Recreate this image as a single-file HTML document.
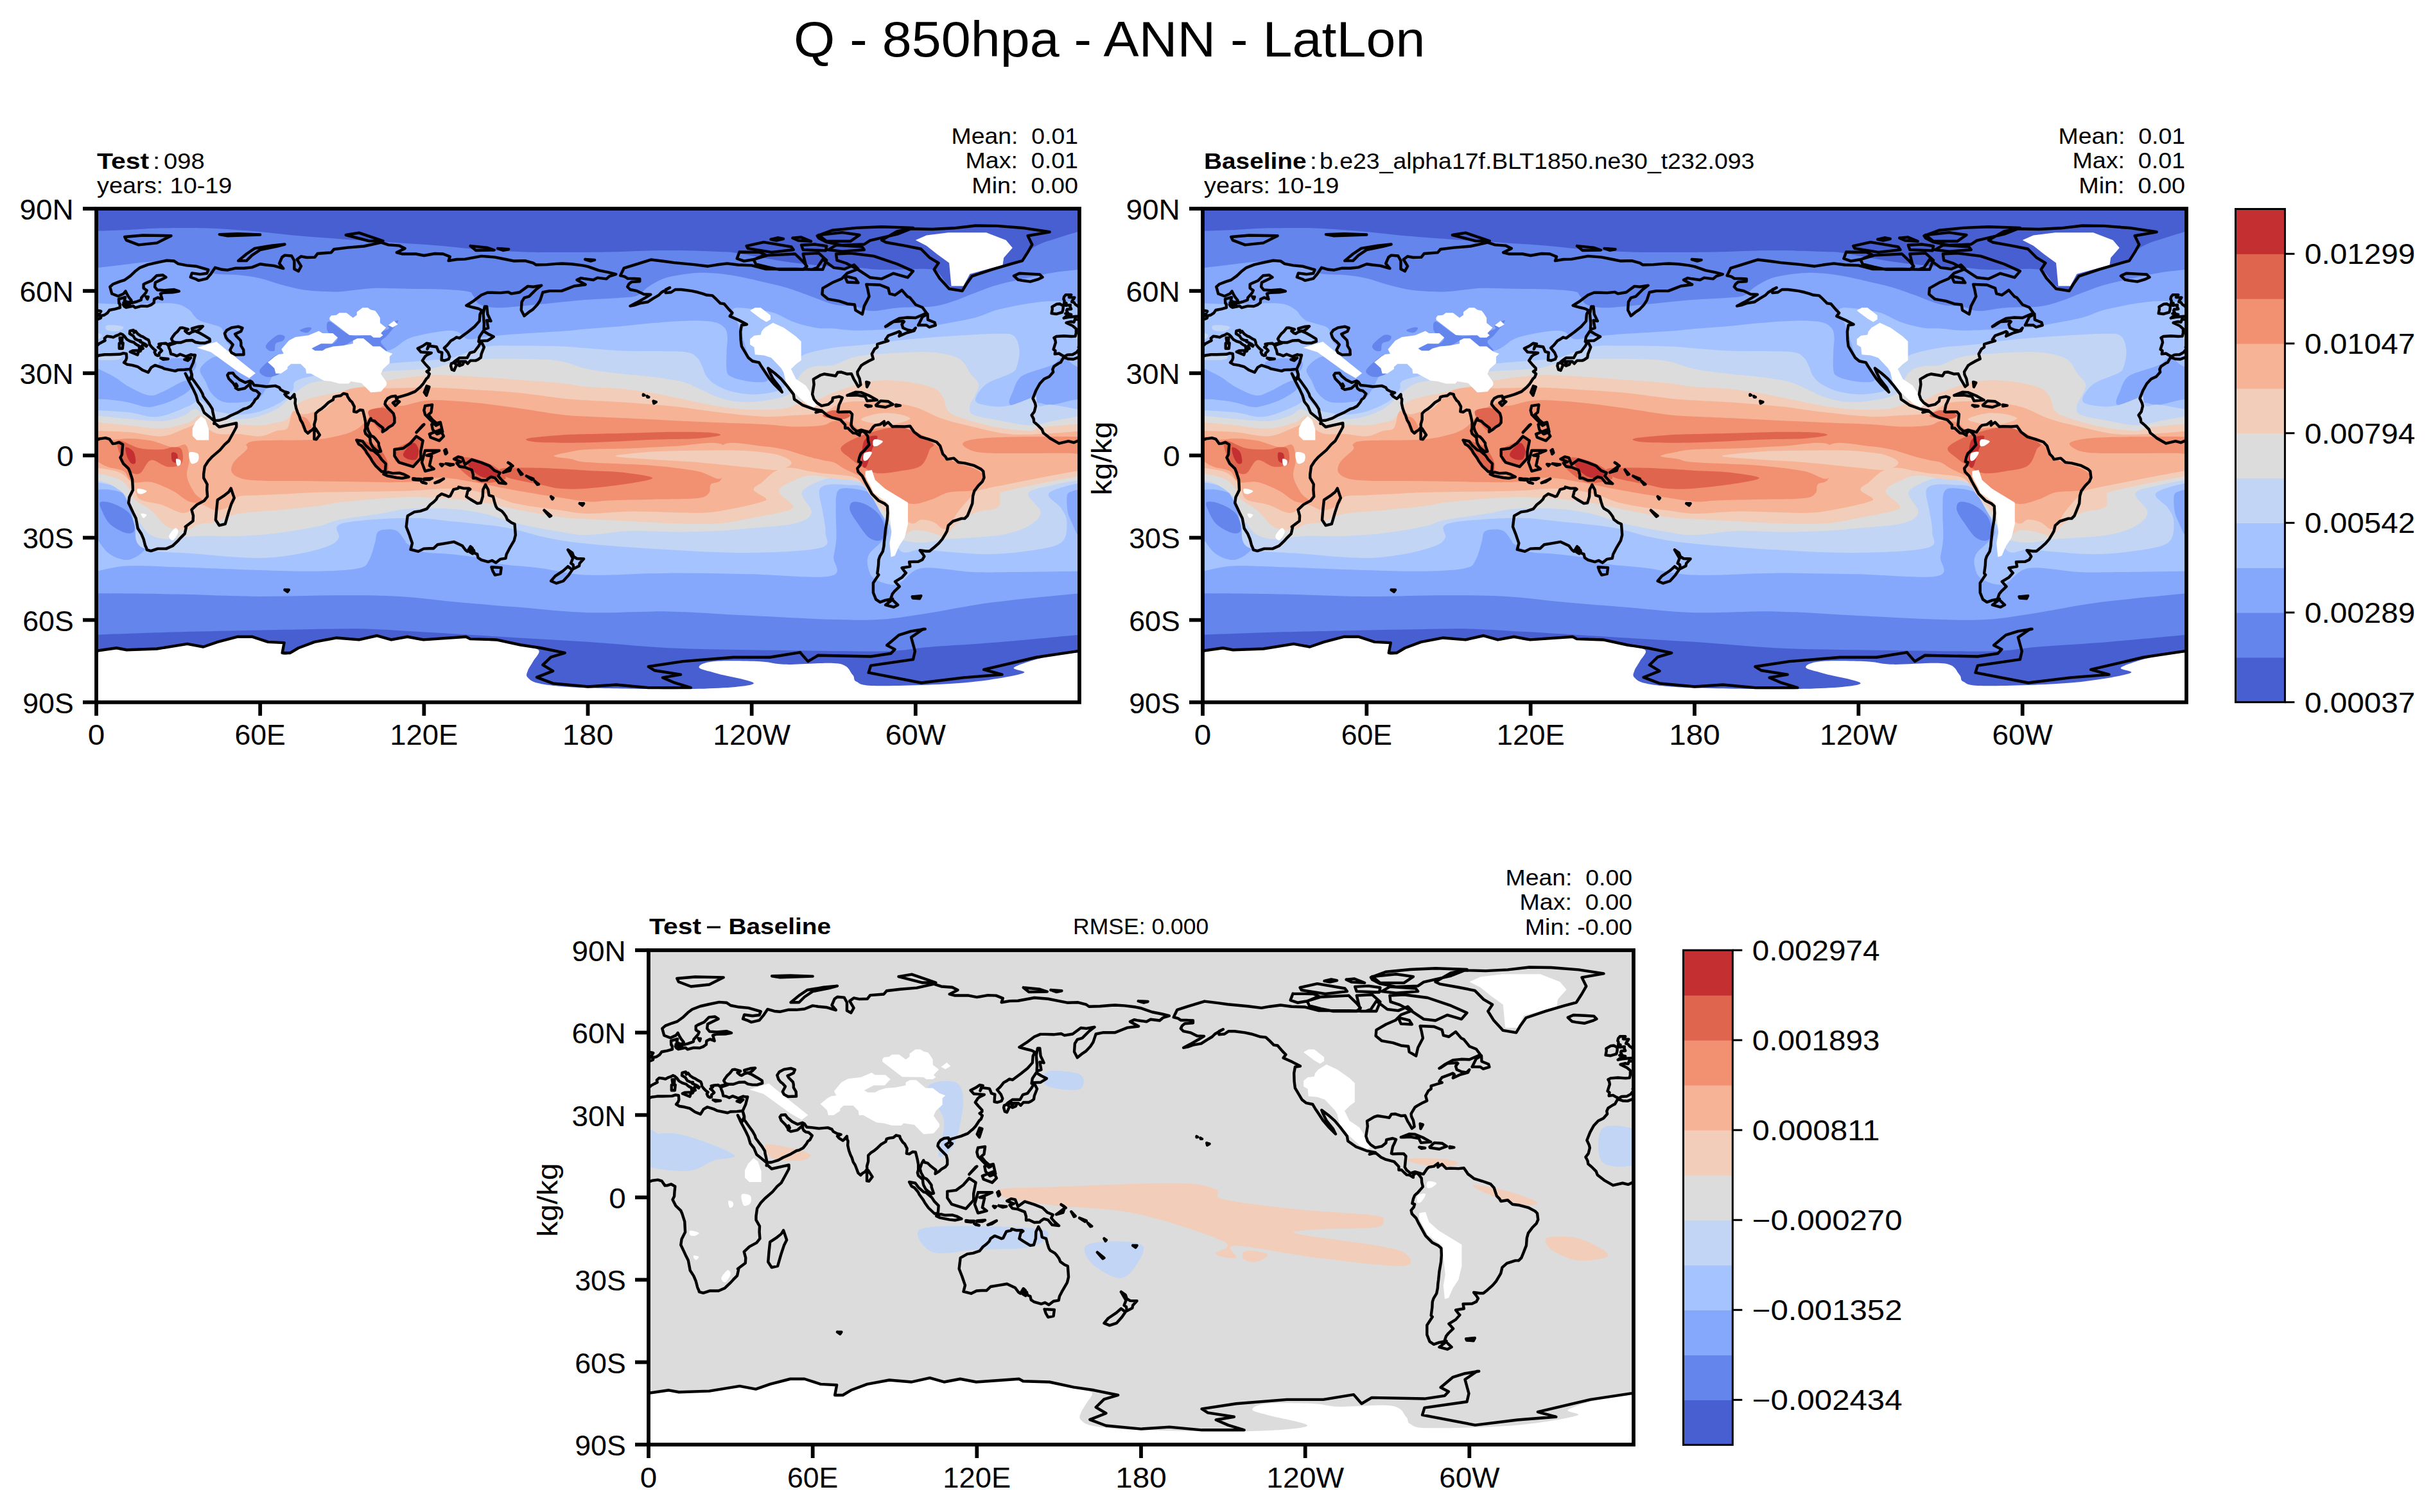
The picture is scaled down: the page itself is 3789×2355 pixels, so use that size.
<!DOCTYPE html><html><head><meta charset="utf-8"><style>html,body{margin:0;padding:0;background:#fff;}svg{display:block;}</style></head><body><svg xmlns="http://www.w3.org/2000/svg" width="3789" height="2355" viewBox="0 0 3789 2355" font-family='"Liberation Sans", sans-serif'>
<rect width="100%" height="100%" fill="#fff"/>
<defs>
<clipPath id="mclip"><rect x="0" y="0" width="360" height="180"/></clipPath>
<g id="field1"><rect x="-5" y="-5" width="370" height="190" fill="#485fd1"/><path d="M-3.00,8.10 C-2.50,8.10 -2.50,8.17 0.00,8.10 C2.50,8.03 8.00,7.87 12.00,7.70 C16.00,7.53 19.33,7.20 24.00,7.10 C28.67,7.00 34.67,6.93 40.00,7.10 C45.33,7.27 50.67,7.67 56.00,8.10 C61.33,8.53 66.33,9.20 72.00,9.70 C77.67,10.20 85.00,10.73 90.00,11.10 C95.00,11.47 98.00,11.63 102.00,11.90 C106.00,12.17 110.00,12.43 114.00,12.70 C118.00,12.97 122.00,13.17 126.00,13.50 C130.00,13.83 134.00,14.37 138.00,14.70 C142.00,15.03 146.00,15.30 150.00,15.50 C154.00,15.70 157.00,15.83 162.00,15.90 C167.00,15.97 175.00,15.93 180.00,15.90 C185.00,15.87 188.00,15.80 192.00,15.70 C196.00,15.60 200.00,15.37 204.00,15.30 C208.00,15.23 212.00,15.23 216.00,15.30 C220.00,15.37 225.00,15.57 228.00,15.70 C231.00,15.83 231.33,15.73 234.00,16.10 C236.67,16.47 240.33,17.28 244.00,17.90 C247.67,18.52 251.67,19.25 256.00,19.80 C260.33,20.35 266.33,20.93 270.00,21.20 C273.67,21.47 275.33,21.23 278.00,21.40 C280.67,21.57 283.33,22.07 286.00,22.20 C288.67,22.33 291.00,22.23 294.00,22.20 C297.00,22.17 301.67,21.87 304.00,22.00 C306.33,22.13 306.67,22.03 308.00,23.00 C309.33,23.97 310.55,26.73 312.00,27.80 C313.45,28.87 315.37,29.80 316.70,29.40 C318.03,29.00 318.45,26.47 320.00,25.40 C321.55,24.33 323.67,23.80 326.00,23.00 C328.33,22.20 331.88,21.27 334.00,20.60 C336.12,19.93 337.37,19.92 338.70,19.00 C340.03,18.08 340.78,16.15 342.00,15.10 C343.22,14.05 344.33,13.43 346.00,12.70 C347.67,11.97 349.67,11.43 352.00,10.70 C354.33,9.97 358.17,8.70 360.00,8.30 C361.83,7.90 362.50,8.30 363.00,8.30 L363.00,155.40 C362.50,155.40 365.83,154.92 360.00,155.40 C354.17,155.88 337.03,157.57 328.00,158.30 C318.97,159.03 311.97,159.30 305.80,159.80 C299.63,160.30 297.17,161.05 291.00,161.30 C284.83,161.55 277.43,161.37 268.80,161.30 C260.17,161.23 249.07,161.08 239.20,160.90 C229.33,160.72 219.47,160.68 209.60,160.20 C199.73,159.72 190.27,158.68 180.00,158.00 C169.73,157.32 158.27,156.72 148.00,156.10 C137.73,155.48 127.03,154.78 118.40,154.30 C109.77,153.82 103.60,153.33 96.20,153.20 C88.80,153.07 81.40,153.38 74.00,153.50 C66.60,153.62 60.43,153.72 51.80,153.90 C43.17,154.08 30.83,154.35 22.20,154.60 C13.57,154.85 4.20,155.27 0.00,155.40 C-4.20,155.53 -2.50,155.40 -3.00,155.40Z" fill="#6485ec"/><path d="M-3.00,21.60 C-2.50,21.60 -2.50,21.83 0.00,21.60 C2.50,21.37 8.67,20.57 12.00,20.20 C15.33,19.83 17.33,19.50 20.00,19.40 C22.67,19.30 25.33,19.27 28.00,19.60 C30.67,19.93 34.00,20.90 36.00,21.40 C38.00,21.90 38.67,22.20 40.00,22.60 C41.33,23.00 42.00,23.53 44.00,23.80 C46.00,24.07 49.33,23.93 52.00,24.20 C54.67,24.47 57.33,24.80 60.00,25.40 C62.67,26.00 65.33,27.10 68.00,27.80 C70.67,28.50 73.33,29.20 76.00,29.60 C78.67,30.00 81.67,30.10 84.00,30.20 C86.33,30.30 87.00,30.40 90.00,30.20 C93.00,30.00 98.00,29.17 102.00,29.00 C106.00,28.83 110.00,29.13 114.00,29.20 C118.00,29.27 122.33,29.23 126.00,29.40 C129.67,29.57 134.00,29.82 136.00,30.20 C138.00,30.58 137.28,30.92 138.00,31.70 C138.72,32.48 138.97,34.17 140.30,34.90 C141.63,35.63 143.72,35.97 146.00,36.10 C148.28,36.23 151.33,35.90 154.00,35.70 C156.67,35.50 158.67,35.23 162.00,34.90 C165.33,34.57 171.00,33.98 174.00,33.70 C177.00,33.42 177.00,33.40 180.00,33.20 C183.00,33.00 189.00,32.75 192.00,32.50 C195.00,32.25 196.33,32.35 198.00,31.70 C199.67,31.05 200.33,29.65 202.00,28.60 C203.67,27.55 205.67,26.20 208.00,25.40 C210.33,24.60 213.33,24.13 216.00,23.80 C218.67,23.47 221.33,23.33 224.00,23.40 C226.67,23.47 229.00,23.73 232.00,24.20 C235.00,24.67 238.67,25.47 242.00,26.20 C245.33,26.93 249.00,27.75 252.00,28.60 C255.00,29.45 257.00,30.25 260.00,31.30 C263.00,32.35 267.00,34.17 270.00,34.90 C273.00,35.63 275.67,35.30 278.00,35.70 C280.33,36.10 281.33,37.23 284.00,37.30 C286.67,37.37 290.33,36.37 294.00,36.10 C297.67,35.83 302.67,36.10 306.00,35.70 C309.33,35.30 311.33,34.55 314.00,33.70 C316.67,32.85 319.33,31.58 322.00,30.60 C324.67,29.62 326.67,28.73 330.00,27.80 C333.33,26.87 338.67,25.73 342.00,25.00 C345.33,24.27 347.00,23.87 350.00,23.40 C353.00,22.93 357.83,22.40 360.00,22.20 C362.17,22.00 362.50,22.20 363.00,22.20 L363.00,140.30 C362.50,140.30 365.83,139.75 360.00,140.30 C354.17,140.85 337.03,142.43 328.00,143.60 C318.97,144.77 312.58,146.27 305.80,147.30 C299.02,148.33 293.47,149.38 287.30,149.80 C281.13,150.22 276.82,150.03 268.80,149.80 C260.78,149.57 249.07,148.88 239.20,148.40 C229.33,147.92 219.47,147.08 209.60,146.90 C199.73,146.72 189.03,147.55 180.00,147.30 C170.97,147.05 163.20,146.02 155.40,145.40 C147.60,144.78 140.60,144.27 133.20,143.60 C125.80,142.93 118.40,141.83 111.00,141.40 C103.60,140.97 97.43,141.00 88.80,141.00 C80.17,141.00 69.07,141.47 59.20,141.40 C49.33,141.33 39.47,140.78 29.60,140.60 C19.73,140.42 5.43,140.35 0.00,140.30 C-5.43,140.25 -2.50,140.30 -3.00,140.30Z" fill="#85a8fc"/><path d="M-3.00,34.50 C-2.50,34.50 -2.50,34.43 0.00,34.50 C2.50,34.57 8.00,34.90 12.00,34.90 C16.00,34.90 21.00,34.50 24.00,34.50 C27.00,34.50 28.33,34.50 30.00,34.90 C31.67,35.30 33.00,36.17 34.00,36.90 C35.00,37.63 35.33,38.63 36.00,39.30 C36.67,39.97 37.00,40.43 38.00,40.90 C39.00,41.37 40.67,41.63 42.00,42.10 C43.33,42.57 45.17,42.78 46.00,43.70 C46.83,44.62 46.33,46.28 47.00,47.60 C47.67,48.92 48.83,49.53 50.00,51.60 C51.17,53.67 52.00,58.43 54.00,60.00 C56.00,61.57 59.67,61.17 62.00,61.00 C64.33,60.83 66.33,60.00 68.00,59.00 C69.67,58.00 69.17,56.17 72.00,55.00 C74.83,53.83 80.33,52.33 85.00,52.00 C89.67,51.67 96.10,53.13 100.00,53.00 C103.90,52.87 105.93,52.17 108.40,51.20 C110.87,50.23 111.87,48.27 114.80,47.20 C117.73,46.13 123.13,45.20 126.00,44.80 C128.87,44.40 130.33,44.33 132.00,44.80 C133.67,45.27 134.33,47.27 136.00,47.60 C137.67,47.93 139.67,47.07 142.00,46.80 C144.33,46.53 146.67,46.27 150.00,46.00 C153.33,45.73 158.00,45.47 162.00,45.20 C166.00,44.93 171.00,44.63 174.00,44.40 C177.00,44.17 177.00,44.05 180.00,43.80 C183.00,43.55 188.00,43.25 192.00,42.90 C196.00,42.55 200.00,42.03 204.00,41.70 C208.00,41.37 212.33,40.97 216.00,40.90 C219.67,40.83 223.67,40.88 226.00,41.30 C228.33,41.72 229.15,42.50 230.00,43.40 C230.85,44.30 230.97,45.23 231.10,46.70 C231.23,48.17 230.85,50.22 230.80,52.20 C230.75,54.18 230.60,57.13 230.80,58.60 C231.00,60.07 231.02,60.33 232.00,61.00 C232.98,61.67 234.98,62.22 236.70,62.60 C238.42,62.98 240.77,63.32 242.30,63.30 C243.83,63.28 245.50,63.28 245.90,62.50 C246.30,61.72 245.30,59.72 244.70,58.60 C244.10,57.48 243.23,56.60 242.30,55.80 C241.37,55.00 239.98,55.10 239.10,53.80 C238.22,52.50 237.68,49.97 237.00,48.00 C236.32,46.03 235.65,43.90 235.00,42.00 C234.35,40.10 232.27,37.52 233.10,36.60 C233.93,35.68 237.53,36.28 240.00,36.50 C242.47,36.72 245.25,37.07 247.90,37.90 C250.55,38.73 253.23,40.57 255.90,41.50 C258.57,42.43 261.55,43.13 263.90,43.50 C266.25,43.87 267.65,43.55 270.00,43.70 C272.35,43.85 274.67,44.35 278.00,44.40 C281.33,44.45 286.00,44.18 290.00,44.00 C294.00,43.82 298.67,43.62 302.00,43.30 C305.33,42.98 306.67,42.70 310.00,42.10 C313.33,41.50 318.67,40.57 322.00,39.70 C325.33,38.83 326.67,37.77 330.00,36.90 C333.33,36.03 338.67,35.03 342.00,34.50 C345.33,33.97 347.00,33.78 350.00,33.70 C353.00,33.62 357.83,33.95 360.00,34.00 C362.17,34.05 362.50,34.00 363.00,34.00 L363.00,132.20 C362.50,132.20 364.60,132.15 360.00,132.20 C355.40,132.25 341.97,132.45 335.40,132.50 C328.83,132.55 326.15,132.73 320.60,132.50 C315.05,132.27 306.67,130.35 302.10,131.10 C297.53,131.85 296.05,136.35 293.20,137.00 C290.35,137.65 286.78,136.12 285.00,135.00 C283.22,133.88 282.83,131.80 282.50,130.30 C282.17,128.80 282.25,127.38 283.00,126.00 C283.75,124.62 285.83,123.33 287.00,122.00 C288.17,120.67 289.83,119.67 290.00,118.00 C290.17,116.33 288.67,113.83 288.00,112.00 C287.33,110.17 286.83,108.42 286.00,107.00 C285.17,105.58 284.67,104.33 283.00,103.50 C281.33,102.67 277.92,102.08 276.00,102.00 C274.08,101.92 272.37,101.67 271.50,103.00 C270.63,104.33 270.88,107.17 270.80,110.00 C270.72,112.83 271.13,117.17 271.00,120.00 C270.87,122.83 270.37,124.67 270.00,127.00 C269.63,129.33 273.93,132.95 268.80,134.00 C263.67,135.05 249.07,133.48 239.20,133.30 C229.33,133.12 219.47,132.85 209.60,132.90 C199.73,132.95 187.80,133.90 180.00,133.60 C172.20,133.30 168.13,131.77 162.80,131.10 C157.47,130.43 151.70,130.22 148.00,129.60 C144.30,128.98 143.60,128.00 140.60,127.40 C137.60,126.80 133.47,126.37 130.00,126.00 C126.53,125.63 122.48,125.83 119.80,125.20 C117.12,124.57 115.03,122.90 113.90,122.20 C112.77,121.50 113.65,121.78 113.00,121.00 C112.35,120.22 111.17,118.17 110.00,117.50 C108.83,116.83 107.17,116.92 106.00,117.00 C104.83,117.08 103.67,117.17 103.00,118.00 C102.33,118.83 102.52,120.32 102.00,122.00 C101.48,123.68 100.87,126.58 99.90,128.10 C98.93,129.62 99.28,130.42 96.20,131.10 C93.12,131.78 87.57,132.08 81.40,132.20 C75.23,132.32 67.83,132.05 59.20,131.80 C50.57,131.55 37.62,130.95 29.60,130.70 C21.58,130.45 16.03,130.05 11.10,130.30 C6.17,130.55 2.35,131.88 0.00,132.20 C-2.35,132.52 -2.50,132.20 -3.00,132.20Z" fill="#a5c3fe"/><path d="M334.70,71.50 C333.37,70.72 335.37,67.58 335.90,66.00 C336.43,64.42 337.03,63.00 337.90,62.00 C338.77,61.00 339.08,60.83 341.10,60.00 C343.12,59.17 347.85,58.00 350.00,57.00 C352.15,56.00 352.67,54.00 354.00,54.00 C355.33,54.00 356.00,55.83 358.00,57.00 C360.00,58.17 363.67,59.67 366.00,61.00 C368.33,62.33 369.80,63.82 372.00,65.00 C374.20,66.18 377.20,67.78 379.20,68.10 C381.20,68.42 381.87,67.77 384.00,66.90 C386.13,66.03 390.33,63.38 392.00,62.90 C393.67,62.42 393.67,63.43 394.00,64.00 C394.33,64.57 395.00,65.32 394.00,66.30 C393.00,67.28 390.00,68.97 388.00,69.90 C386.00,70.83 383.67,71.50 382.00,71.90 C380.33,72.30 380.00,72.57 378.00,72.30 C376.00,72.03 373.00,70.77 370.00,70.30 C367.00,69.83 363.33,69.30 360.00,69.50 C356.67,69.70 352.68,71.30 350.00,71.50 C347.32,71.70 346.45,70.70 343.90,70.70 C341.35,70.70 336.03,72.28 334.70,71.50Z" fill="#85a8fc"/><path d="M-25.30,71.50 C-26.63,70.72 -24.63,67.58 -24.10,66.00 C-23.57,64.42 -22.97,63.00 -22.10,62.00 C-21.23,61.00 -20.92,60.83 -18.90,60.00 C-16.88,59.17 -12.15,58.00 -10.00,57.00 C-7.85,56.00 -7.33,54.00 -6.00,54.00 C-4.67,54.00 -4.00,55.83 -2.00,57.00 C0.00,58.17 3.67,59.67 6.00,61.00 C8.33,62.33 9.80,63.82 12.00,65.00 C14.20,66.18 17.20,67.78 19.20,68.10 C21.20,68.42 21.87,67.77 24.00,66.90 C26.13,66.03 30.33,63.38 32.00,62.90 C33.67,62.42 33.67,63.43 34.00,64.00 C34.33,64.57 35.00,65.32 34.00,66.30 C33.00,67.28 30.00,68.97 28.00,69.90 C26.00,70.83 23.67,71.50 22.00,71.90 C20.33,72.30 20.00,72.57 18.00,72.30 C16.00,72.03 13.00,70.77 10.00,70.30 C7.00,69.83 3.33,69.30 0.00,69.50 C-3.33,69.70 -7.32,71.30 -10.00,71.50 C-12.68,71.70 -13.55,70.70 -16.10,70.70 C-18.65,70.70 -23.97,72.28 -25.30,71.50Z" fill="#85a8fc"/><path d="M42.00,54.60 C43.33,53.80 44.67,53.90 46.00,53.80 C47.33,53.70 48.67,53.47 50.00,54.00 C51.33,54.53 52.33,56.33 54.00,57.00 C55.67,57.67 58.00,57.83 60.00,58.00 C62.00,58.17 65.33,57.33 66.00,58.00 C66.67,58.67 64.67,60.70 64.00,62.00 C63.33,63.30 62.83,64.55 62.00,65.80 C61.17,67.05 60.67,68.68 59.00,69.50 C57.33,70.32 54.17,70.57 52.00,70.70 C49.83,70.83 47.67,70.90 46.00,70.30 C44.33,69.70 43.00,68.32 42.00,67.10 C41.00,65.88 40.67,64.42 40.00,63.00 C39.33,61.58 37.67,60.00 38.00,58.60 C38.33,57.20 40.67,55.40 42.00,54.60Z" fill="#85a8fc"/><path d="M355.50,104.50 C355.80,103.27 356.75,103.33 357.50,103.00 C358.25,102.67 358.75,102.58 360.00,102.50 C361.25,102.42 363.33,102.25 365.00,102.50 C366.67,102.75 368.83,103.08 370.00,104.00 C371.17,104.92 371.33,106.17 372.00,108.00 C372.67,109.83 373.33,113.00 374.00,115.00 C374.67,117.00 375.33,118.50 376.00,120.00 C376.67,121.50 378.67,122.67 378.00,124.00 C377.33,125.33 374.17,127.67 372.00,128.00 C369.83,128.33 367.00,127.33 365.00,126.00 C363.00,124.67 361.33,122.00 360.00,120.00 C358.67,118.00 357.72,115.60 357.00,114.00 C356.28,112.40 355.95,111.98 355.70,110.40 C355.45,108.82 355.20,105.73 355.50,104.50Z" fill="#85a8fc"/><path d="M-4.50,104.50 C-4.20,103.27 -3.25,103.33 -2.50,103.00 C-1.75,102.67 -1.25,102.58 0.00,102.50 C1.25,102.42 3.33,102.25 5.00,102.50 C6.67,102.75 8.83,103.08 10.00,104.00 C11.17,104.92 11.33,106.17 12.00,108.00 C12.67,109.83 13.33,113.00 14.00,115.00 C14.67,117.00 15.33,118.50 16.00,120.00 C16.67,121.50 18.67,122.67 18.00,124.00 C17.33,125.33 14.17,127.67 12.00,128.00 C9.83,128.33 7.00,127.33 5.00,126.00 C3.00,124.67 1.33,122.00 0.00,120.00 C-1.33,118.00 -2.28,115.60 -3.00,114.00 C-3.72,112.40 -4.05,111.98 -4.30,110.40 C-4.55,108.82 -4.80,105.73 -4.50,104.50Z" fill="#85a8fc"/><path d="M361.50,107.00 C362.17,106.58 364.25,106.83 366.00,107.50 C367.75,108.17 370.67,109.42 372.00,111.00 C373.33,112.58 374.17,115.78 374.00,117.00 C373.83,118.22 372.50,118.63 371.00,118.30 C369.50,117.97 366.50,116.38 365.00,115.00 C363.50,113.62 362.58,111.33 362.00,110.00 C361.42,108.67 360.83,107.42 361.50,107.00Z" fill="#6485ec"/><path d="M1.50,107.00 C2.17,106.58 4.25,106.83 6.00,107.50 C7.75,108.17 10.67,109.42 12.00,111.00 C13.33,112.58 14.17,115.78 14.00,117.00 C13.83,118.22 12.50,118.63 11.00,118.30 C9.50,117.97 6.50,116.38 5.00,115.00 C3.50,113.62 2.58,111.33 2.00,110.00 C1.42,108.67 0.83,107.42 1.50,107.00Z" fill="#6485ec"/><path d="M277.00,107.00 C278.00,106.67 280.33,107.17 282.00,108.00 C283.67,108.83 285.83,110.33 287.00,112.00 C288.17,113.67 289.00,116.50 289.00,118.00 C289.00,119.50 288.00,120.67 287.00,121.00 C286.00,121.33 284.33,121.00 283.00,120.00 C281.67,119.00 280.17,116.67 279.00,115.00 C277.83,113.33 276.33,111.33 276.00,110.00 C275.67,108.67 276.00,107.33 277.00,107.00Z" fill="#6485ec"/><path d="M59.80,59.00 C60.10,58.12 61.83,56.58 63.00,55.60 C64.17,54.62 65.63,53.38 66.80,53.10 C67.97,52.82 69.52,53.10 70.00,53.90 C70.48,54.70 70.20,56.83 69.70,57.90 C69.20,58.97 68.02,59.72 67.00,60.30 C65.98,60.88 64.57,61.30 63.60,61.40 C62.63,61.50 61.83,61.30 61.20,60.90 C60.57,60.50 59.50,59.88 59.80,59.00Z" fill="#6485ec"/><path d="M62.20,49.70 C62.73,48.80 65.08,46.73 66.20,46.20 C67.32,45.67 68.53,46.18 68.90,46.50 C69.27,46.82 68.93,47.65 68.40,48.10 C67.87,48.55 66.23,48.58 65.70,49.20 C65.17,49.82 65.65,51.40 65.20,51.80 C64.75,52.20 63.50,51.95 63.00,51.60 C62.50,51.25 61.67,50.60 62.20,49.70Z" fill="#6485ec"/><path d="M74.50,44.40 C74.50,44.08 76.48,43.43 77.20,43.30 C77.92,43.17 78.80,43.28 78.80,43.60 C78.80,43.92 77.92,45.07 77.20,45.20 C76.48,45.33 74.50,44.72 74.50,44.40Z" fill="#6485ec"/><path d="M84.40,43.80 C84.35,43.01 84.17,40.85 85.50,41.20 C86.83,41.55 90.35,45.07 92.40,45.90 C94.45,46.73 95.43,46.50 97.80,46.20 C100.17,45.90 105.08,44.72 106.60,44.10 C108.12,43.48 106.23,43.03 106.90,42.50 C107.57,41.97 110.65,40.28 110.60,40.90 C110.55,41.52 107.67,44.92 106.60,46.20 C105.53,47.48 104.25,47.67 104.20,48.60 C104.15,49.53 106.92,51.53 106.30,51.80 C105.68,52.07 102.28,50.90 100.50,50.20 C98.72,49.50 97.25,47.64 95.60,47.60 C93.95,47.56 92.68,49.25 90.60,49.95 C88.52,50.65 85.02,51.57 83.10,51.80 C81.18,52.02 79.33,51.73 79.10,51.30 C78.87,50.87 80.45,49.55 81.70,49.20 C82.95,48.85 85.48,49.57 86.60,49.20 C87.72,48.83 88.53,47.54 88.40,47.00 C88.27,46.46 86.47,46.48 85.80,45.95 C85.13,45.42 84.45,44.59 84.40,43.80Z" fill="#6485ec"/><path d="M23.20,55.80 C23.93,55.27 25.87,54.67 28.00,54.60 C30.13,54.53 34.80,54.60 36.00,55.40 C37.20,56.20 36.53,58.80 35.20,59.40 C33.87,60.00 29.93,59.27 28.00,59.00 C26.07,58.73 24.40,58.33 23.60,57.80 C22.80,57.27 22.47,56.33 23.20,55.80Z" fill="#85a8fc"/><path d="M-3.00,73.50 C-2.50,73.50 -2.50,73.37 0.00,73.50 C2.50,73.63 8.67,73.90 12.00,74.30 C15.33,74.70 17.67,75.77 20.00,75.90 C22.33,76.03 23.67,75.77 26.00,75.10 C28.33,74.43 32.00,72.77 34.00,71.90 C36.00,71.03 36.67,69.72 38.00,69.90 C39.33,70.08 41.00,72.33 42.00,73.00 C43.00,73.67 42.33,73.55 44.00,73.90 C45.67,74.25 49.33,75.10 52.00,75.10 C54.67,75.10 57.33,74.70 60.00,73.90 C62.67,73.10 66.00,71.62 68.00,70.30 C70.00,68.98 71.00,67.32 72.00,66.00 C73.00,64.68 71.00,63.57 74.00,62.40 C77.00,61.23 84.80,59.95 90.00,59.00 C95.20,58.05 100.53,57.27 105.20,56.70 C109.87,56.13 113.87,55.98 118.00,55.60 C122.13,55.22 126.00,55.27 130.00,54.40 C134.00,53.53 138.00,51.13 142.00,50.40 C146.00,49.67 149.33,50.03 154.00,50.00 C158.67,49.97 165.67,50.05 170.00,50.20 C174.33,50.35 176.33,50.63 180.00,50.90 C183.67,51.17 188.00,51.62 192.00,51.80 C196.00,51.98 200.00,51.92 204.00,52.00 C208.00,52.08 213.33,51.92 216.00,52.30 C218.67,52.68 219.00,53.38 220.00,54.30 C221.00,55.22 221.48,56.75 222.00,57.80 C222.52,58.85 222.43,59.62 223.10,60.60 C223.77,61.58 224.52,62.72 226.00,63.70 C227.48,64.68 229.67,65.83 232.00,66.50 C234.33,67.17 237.35,67.63 240.00,67.70 C242.65,67.77 245.92,67.37 247.90,66.90 C249.88,66.43 250.88,66.05 251.90,64.90 C252.92,63.75 253.33,61.52 254.00,60.00 C254.67,58.48 254.92,56.97 255.90,55.80 C256.88,54.63 257.55,53.85 259.90,53.00 C262.25,52.15 266.32,51.27 270.00,50.70 C273.68,50.13 277.33,50.12 282.00,49.60 C286.67,49.08 292.67,48.13 298.00,47.60 C303.33,47.07 308.67,46.73 314.00,46.40 C319.33,46.07 326.33,45.60 330.00,45.60 C333.67,45.60 334.67,45.40 336.00,46.40 C337.33,47.40 337.82,49.75 338.00,51.60 C338.18,53.45 337.60,56.10 337.10,57.50 C336.60,58.90 336.87,58.92 335.00,60.00 C333.13,61.08 328.08,62.35 325.90,64.00 C323.72,65.65 321.77,68.58 321.90,69.90 C322.03,71.22 324.70,71.57 326.70,71.90 C328.70,72.23 331.37,72.37 333.90,71.90 C336.43,71.43 340.23,69.77 341.90,69.10 C343.57,68.43 343.37,67.43 343.90,67.90 C344.43,68.37 344.10,71.30 345.10,71.90 C346.10,72.50 347.42,71.28 349.90,71.50 C352.38,71.72 357.82,72.92 360.00,73.20 C362.18,73.48 362.50,73.20 363.00,73.20 L363.00,100.00 C362.50,100.00 362.37,99.37 360.00,100.00 C357.63,100.63 349.92,102.27 348.80,103.80 C347.68,105.33 352.20,107.45 353.30,109.20 C354.40,110.95 355.40,112.20 355.40,114.30 C355.40,116.40 355.65,120.05 353.30,121.80 C350.95,123.55 345.82,124.10 341.30,124.80 C336.78,125.50 331.23,125.95 326.20,126.00 C321.17,126.05 315.12,125.40 311.10,125.10 C307.08,124.80 304.87,124.25 302.10,124.20 C299.33,124.15 296.52,126.50 294.50,124.80 C292.48,123.10 291.42,117.13 290.00,114.00 C288.58,110.87 287.50,108.08 286.00,106.00 C284.50,103.92 282.67,102.37 281.00,101.50 C279.33,100.63 277.83,100.97 276.00,100.80 C274.17,100.63 271.68,100.42 270.00,100.50 C268.32,100.58 266.78,100.77 265.90,101.30 C265.02,101.83 264.70,102.25 264.70,103.70 C264.70,105.15 265.52,107.62 265.90,110.00 C266.28,112.38 267.13,115.72 267.00,118.00 C266.87,120.28 269.73,122.45 265.10,123.70 C260.47,124.95 248.45,125.38 239.20,125.50 C229.95,125.62 219.47,124.95 209.60,124.40 C199.73,123.85 187.43,122.93 180.00,122.20 C172.57,121.47 170.00,120.98 165.00,120.00 C160.00,119.02 155.83,117.30 150.00,116.30 C144.17,115.30 136.00,114.58 130.00,114.00 C124.00,113.42 120.67,112.67 114.00,112.80 C107.33,112.93 94.20,113.60 90.00,114.80 C85.80,116.00 89.62,118.63 88.80,120.00 C87.98,121.37 87.57,122.02 85.10,123.00 C82.63,123.98 78.32,125.17 74.00,125.90 C69.68,126.63 65.37,127.40 59.20,127.40 C53.03,127.40 44.03,126.52 37.00,125.90 C29.97,125.28 20.83,125.52 17.00,123.70 C13.17,121.88 14.83,117.62 14.00,115.00 C13.17,112.38 13.00,110.17 12.00,108.00 C11.00,105.83 10.00,103.38 8.00,102.00 C6.00,100.62 1.83,100.08 0.00,99.70 C-1.83,99.32 -2.50,99.70 -3.00,99.70Z" fill="#c3d5f4"/><path d="M3.60,42.70 C4.10,42.40 5.93,42.42 7.00,42.50 C8.07,42.58 9.83,42.83 10.00,43.20 C10.17,43.57 9.00,44.52 8.00,44.70 C7.00,44.88 4.73,44.63 4.00,44.30 C3.27,43.97 3.10,43.00 3.60,42.70Z" fill="#c3d5f4"/><path d="M-1.00,45.20 C-0.50,44.95 1.67,45.62 2.00,46.00 C2.33,46.38 1.50,47.25 1.00,47.50 C0.50,47.75 -0.67,47.88 -1.00,47.50 C-1.33,47.12 -1.50,45.45 -1.00,45.20Z" fill="#c3d5f4"/><path d="M359.00,45.20 C359.50,44.95 361.67,45.62 362.00,46.00 C362.33,46.38 361.50,47.25 361.00,47.50 C360.50,47.75 359.33,47.88 359.00,47.50 C358.67,47.12 358.50,45.45 359.00,45.20Z" fill="#c3d5f4"/><path d="M-1.00,53.50 C-0.17,53.20 2.37,53.22 4.00,53.20 C5.63,53.18 8.13,53.10 8.80,53.40 C9.47,53.70 9.47,54.70 8.00,55.00 C6.53,55.30 1.50,55.20 0.00,55.20 C-1.50,55.20 -0.83,55.28 -1.00,55.00 C-1.17,54.72 -1.83,53.80 -1.00,53.50Z" fill="#c3d5f4"/><path d="M359.00,53.50 C359.83,53.20 362.37,53.22 364.00,53.20 C365.63,53.18 368.13,53.10 368.80,53.40 C369.47,53.70 369.47,54.70 368.00,55.00 C366.53,55.30 361.50,55.20 360.00,55.20 C358.50,55.20 359.17,55.28 359.00,55.00 C358.83,54.72 358.17,53.80 359.00,53.50Z" fill="#c3d5f4"/><path d="M-3.00,75.50 C-2.50,75.50 -2.50,75.30 0.00,75.50 C2.50,75.70 8.00,76.37 12.00,76.70 C16.00,77.03 20.67,77.70 24.00,77.50 C27.33,77.30 30.00,76.23 32.00,75.50 C34.00,74.77 34.67,73.17 36.00,73.10 C37.33,73.03 38.67,74.53 40.00,75.10 C41.33,75.67 41.33,76.27 44.00,76.50 C46.67,76.73 52.33,77.07 56.00,76.50 C59.67,75.93 63.33,74.53 66.00,73.10 C68.67,71.67 70.33,69.28 72.00,67.90 C73.67,66.52 74.67,65.58 76.00,64.80 C77.33,64.02 77.67,63.67 80.00,63.20 C82.33,62.73 86.00,62.62 90.00,62.00 C94.00,61.38 98.67,60.12 104.00,59.50 C109.33,58.88 117.67,58.82 122.00,58.30 C126.33,57.78 126.67,56.98 130.00,56.40 C133.33,55.82 137.33,55.07 142.00,54.80 C146.67,54.53 153.33,54.67 158.00,54.80 C162.67,54.93 166.33,54.98 170.00,55.60 C173.67,56.22 176.33,57.73 180.00,58.50 C183.67,59.27 188.00,59.72 192.00,60.20 C196.00,60.68 200.33,60.93 204.00,61.40 C207.67,61.87 211.33,62.35 214.00,63.00 C216.67,63.65 217.67,64.32 220.00,65.30 C222.33,66.28 225.33,68.03 228.00,68.90 C230.67,69.77 233.35,70.30 236.00,70.50 C238.65,70.70 241.25,70.43 243.90,70.10 C246.55,69.77 249.90,69.23 251.90,68.50 C253.90,67.77 255.03,66.83 255.90,65.70 C256.77,64.57 256.43,62.88 257.10,61.70 C257.77,60.52 258.77,59.32 259.90,58.60 C261.03,57.88 262.22,57.67 263.90,57.40 C265.58,57.13 267.65,57.57 270.00,57.00 C272.35,56.43 274.67,54.70 278.00,54.00 C281.33,53.30 285.33,53.07 290.00,52.80 C294.67,52.53 301.67,52.07 306.00,52.40 C310.33,52.73 313.67,53.53 316.00,54.80 C318.33,56.07 318.82,58.47 320.00,60.00 C321.18,61.53 322.78,62.68 323.10,64.00 C323.42,65.32 322.43,66.58 321.90,67.90 C321.37,69.22 320.03,70.70 319.90,71.90 C319.77,73.10 319.43,74.23 321.10,75.10 C322.77,75.97 326.43,76.45 329.90,77.10 C333.37,77.75 338.55,78.93 341.90,79.00 C345.25,79.07 346.98,78.05 350.00,77.50 C353.02,76.95 357.83,76.00 360.00,75.70 C362.17,75.40 362.50,75.70 363.00,75.70 L363.00,99.00 C362.50,99.00 362.12,98.70 360.00,99.00 C357.88,99.30 353.42,100.00 350.30,100.80 C347.18,101.60 342.05,102.15 341.30,103.80 C340.55,105.45 345.80,108.70 345.80,110.70 C345.80,112.70 343.57,114.45 341.30,115.80 C339.03,117.15 335.72,118.10 332.20,118.80 C328.68,119.50 323.72,119.70 320.20,120.00 C316.68,120.30 314.12,120.30 311.10,120.60 C308.08,120.90 304.87,121.80 302.10,121.80 C299.33,121.80 296.18,121.40 294.50,120.60 C292.82,119.80 293.08,118.43 292.00,117.00 C290.92,115.57 289.33,114.00 288.00,112.00 C286.67,110.00 285.17,106.92 284.00,105.00 C282.83,103.08 282.33,101.50 281.00,100.50 C279.67,99.50 277.83,99.40 276.00,99.00 C274.17,98.60 272.02,97.98 270.00,98.10 C267.98,98.22 265.85,98.77 263.90,99.70 C261.95,100.63 258.63,101.85 258.30,103.70 C257.97,105.55 262.30,108.95 261.90,110.80 C261.50,112.65 259.55,113.85 255.90,114.80 C252.25,115.75 244.65,116.05 240.00,116.50 C235.35,116.95 232.67,117.27 228.00,117.50 C223.33,117.73 217.33,117.90 212.00,117.90 C206.67,117.90 201.33,117.32 196.00,117.50 C190.67,117.68 184.33,118.93 180.00,119.00 C175.67,119.07 174.33,118.60 170.00,117.90 C165.67,117.20 158.67,115.92 154.00,114.80 C149.33,113.68 146.00,112.08 142.00,111.20 C138.00,110.32 134.67,109.78 130.00,109.50 C125.33,109.22 118.40,109.20 114.00,109.50 C109.60,109.80 107.80,110.63 103.60,111.30 C99.40,111.97 92.50,112.75 88.80,113.50 C85.10,114.25 85.10,115.00 81.40,115.80 C77.70,116.60 71.53,117.70 66.60,118.30 C61.67,118.90 56.73,119.22 51.80,119.40 C46.87,119.58 41.30,119.22 37.00,119.40 C32.70,119.58 28.83,120.57 26.00,120.50 C23.17,120.43 21.50,119.75 20.00,119.00 C18.50,118.25 18.00,117.17 17.00,116.00 C16.00,114.83 14.83,113.67 14.00,112.00 C13.17,110.33 13.33,107.83 12.00,106.00 C10.67,104.17 8.00,102.17 6.00,101.00 C4.00,99.83 1.50,99.33 0.00,99.00 C-1.50,98.67 -2.50,99.00 -3.00,99.00Z" fill="#dddcdc"/><path d="M-3.00,77.90 C-2.50,77.90 -2.50,77.72 0.00,77.90 C2.50,78.08 8.00,78.62 12.00,79.00 C16.00,79.38 20.33,80.38 24.00,80.20 C27.67,80.02 31.67,78.68 34.00,77.90 C36.33,77.12 36.33,75.43 38.00,75.50 C39.67,75.57 41.67,77.77 44.00,78.30 C46.33,78.83 49.33,78.58 52.00,78.70 C54.67,78.82 57.83,79.08 60.00,79.00 C62.17,78.92 63.33,78.58 65.00,78.20 C66.67,77.82 68.50,77.88 70.00,76.70 C71.50,75.52 72.33,72.43 74.00,71.10 C75.67,69.77 77.33,69.43 80.00,68.70 C82.67,67.97 85.83,67.65 90.00,66.70 C94.17,65.75 99.67,63.98 105.00,63.00 C110.33,62.02 116.50,61.10 122.00,60.80 C127.50,60.50 132.67,60.93 138.00,61.20 C143.33,61.47 148.67,62.00 154.00,62.40 C159.33,62.80 165.67,63.17 170.00,63.60 C174.33,64.03 176.33,64.65 180.00,65.00 C183.67,65.35 188.00,65.32 192.00,65.70 C196.00,66.08 200.00,66.63 204.00,67.30 C208.00,67.97 212.00,68.90 216.00,69.70 C220.00,70.50 224.00,71.50 228.00,72.10 C232.00,72.70 236.02,73.17 240.00,73.30 C243.98,73.43 248.92,73.37 251.90,72.90 C254.88,72.43 256.38,71.32 257.90,70.50 C259.42,69.68 260.00,68.13 261.00,68.00 C262.00,67.87 262.40,69.85 263.90,69.70 C265.40,69.55 266.98,68.18 270.00,67.10 C273.02,66.02 278.00,63.92 282.00,63.20 C286.00,62.48 290.00,62.47 294.00,62.80 C298.00,63.13 303.33,64.22 306.00,65.20 C308.67,66.18 309.00,67.25 310.00,68.70 C311.00,70.15 310.67,72.57 312.00,73.90 C313.33,75.23 315.02,75.72 318.00,76.70 C320.98,77.68 325.92,79.08 329.90,79.80 C333.88,80.52 339.23,81.00 341.90,81.00 C344.57,81.00 342.88,80.22 345.90,79.80 C348.92,79.38 357.15,78.72 360.00,78.50 C362.85,78.28 362.50,78.50 363.00,78.50 L363.00,97.50 C362.50,97.50 362.62,97.10 360.00,97.50 C357.38,97.90 351.93,98.95 347.30,99.90 C342.67,100.85 334.92,102.40 332.20,103.20 C329.48,104.00 331.25,103.85 331.00,104.70 C330.75,105.55 331.25,107.45 330.70,108.30 C330.15,109.15 328.70,109.50 327.70,109.80 C326.70,110.10 325.95,109.80 324.70,110.10 C323.45,110.40 321.97,110.65 320.20,111.60 C318.43,112.55 315.62,114.50 314.10,115.80 C312.58,117.10 312.10,118.90 311.10,119.40 C310.10,119.90 309.35,119.10 308.10,118.80 C306.85,118.50 305.12,117.85 303.60,117.60 C302.08,117.35 300.52,117.10 299.00,117.30 C297.48,117.50 296.00,119.68 294.50,118.80 C293.00,117.92 291.92,114.47 290.00,112.00 C288.08,109.53 284.67,106.05 283.00,104.00 C281.33,101.95 282.17,100.62 280.00,99.70 C277.83,98.78 273.02,98.90 270.00,98.50 C266.98,98.10 264.25,97.23 261.90,97.30 C259.55,97.37 257.90,97.97 255.90,98.90 C253.90,99.83 250.03,101.32 249.90,102.90 C249.77,104.48 254.77,107.15 255.10,108.40 C255.43,109.65 254.42,109.67 251.90,110.40 C249.38,111.13 243.98,112.07 240.00,112.80 C236.02,113.53 232.67,114.47 228.00,114.80 C223.33,115.13 217.33,114.93 212.00,114.80 C206.67,114.67 201.33,114.27 196.00,114.00 C190.67,113.73 184.30,113.45 180.00,113.20 C175.70,112.95 174.30,113.03 170.20,112.50 C166.10,111.97 160.33,110.92 155.40,110.00 C150.47,109.08 145.53,107.75 140.60,107.00 C135.67,106.25 130.73,105.78 125.80,105.50 C120.87,105.22 116.97,105.05 111.00,105.30 C105.03,105.55 94.93,106.48 90.00,107.00 C85.07,107.52 85.30,107.92 81.40,108.40 C77.50,108.88 71.53,109.42 66.60,109.90 C61.67,110.38 55.63,110.57 51.80,111.30 C47.97,112.03 45.90,113.68 43.60,114.30 C41.30,114.92 39.77,114.55 38.00,115.00 C36.23,115.45 35.00,116.83 33.00,117.00 C31.00,117.17 28.17,117.17 26.00,116.00 C23.83,114.83 22.00,111.67 20.00,110.00 C18.00,108.33 15.33,107.33 14.00,106.00 C12.67,104.67 13.00,103.25 12.00,102.00 C11.00,100.75 10.00,99.42 8.00,98.50 C6.00,97.58 1.83,96.83 0.00,96.50 C-1.83,96.17 -2.50,96.50 -3.00,96.50Z" fill="#f1cdba"/><path d="M-3.00,81.00 C-2.50,81.00 -2.50,80.92 0.00,81.00 C2.50,81.08 8.00,81.17 12.00,81.50 C16.00,81.83 20.50,83.25 24.00,83.00 C27.50,82.75 30.67,80.75 33.00,80.00 C35.33,79.25 36.17,78.17 38.00,78.50 C39.83,78.83 41.67,81.38 44.00,82.00 C46.33,82.62 49.33,82.03 52.00,82.20 C54.67,82.37 57.67,83.20 60.00,83.00 C62.33,82.80 64.33,81.50 66.00,81.00 C67.67,80.50 69.00,81.17 70.00,80.00 C71.00,78.83 71.00,74.83 72.00,74.00 C73.00,73.17 74.67,75.00 76.00,75.00 C77.33,75.00 78.67,74.33 80.00,74.00 C81.33,73.67 82.67,73.83 84.00,73.00 C85.33,72.17 86.67,70.17 88.00,69.00 C89.33,67.83 90.00,66.67 92.00,66.00 C94.00,65.33 97.67,65.08 100.00,65.00 C102.33,64.92 102.33,65.47 106.00,65.50 C109.67,65.53 116.67,65.12 122.00,65.20 C127.33,65.28 132.67,65.68 138.00,66.00 C143.33,66.32 148.67,66.58 154.00,67.10 C159.33,67.62 165.67,68.63 170.00,69.10 C174.33,69.57 175.67,69.62 180.00,69.90 C184.33,70.18 190.67,70.42 196.00,70.80 C201.33,71.18 206.67,71.62 212.00,72.20 C217.33,72.78 222.68,73.70 228.00,74.30 C233.32,74.90 239.25,75.62 243.90,75.80 C248.55,75.98 252.23,75.62 255.90,75.40 C259.57,75.18 263.55,75.02 265.90,74.50 C268.25,73.98 268.65,72.93 270.00,72.30 C271.35,71.67 272.00,71.03 274.00,70.70 C276.00,70.37 278.00,70.10 282.00,70.30 C286.00,70.50 293.33,70.83 298.00,71.90 C302.67,72.97 306.00,75.38 310.00,76.70 C314.00,78.02 318.02,78.88 322.00,79.80 C325.98,80.72 329.92,81.80 333.90,82.20 C337.88,82.60 341.55,82.37 345.90,82.20 C350.25,82.03 357.15,81.37 360.00,81.20 C362.85,81.03 362.50,81.20 363.00,81.20 L363.00,95.50 C362.50,95.50 362.62,95.12 360.00,95.50 C357.38,95.88 351.43,97.02 347.30,97.80 C343.17,98.58 338.72,99.50 335.20,100.20 C331.68,100.90 328.40,101.45 326.20,102.00 C324.00,102.55 323.70,102.17 322.00,103.50 C320.30,104.83 317.82,107.80 316.00,110.00 C314.18,112.20 312.67,115.98 311.10,116.70 C309.53,117.42 308.10,114.85 306.60,114.30 C305.10,113.75 303.62,113.40 302.10,113.40 C300.58,113.40 300.18,115.92 297.50,114.30 C294.82,112.68 288.58,105.80 286.00,103.70 C283.42,101.60 283.33,102.63 282.00,101.70 C280.67,100.77 280.00,98.90 278.00,98.10 C276.00,97.30 272.02,97.17 270.00,96.90 C267.98,96.63 267.58,96.73 265.90,96.50 C264.22,96.27 261.90,95.83 259.90,95.50 C257.90,95.17 255.77,94.47 253.90,94.50 C252.03,94.53 250.37,94.83 248.70,95.70 C247.03,96.57 245.23,98.57 243.90,99.70 C242.57,100.83 240.50,101.52 240.70,102.50 C240.90,103.48 244.57,104.88 245.10,105.60 C245.63,106.32 245.43,106.27 243.90,106.80 C242.37,107.33 239.22,108.13 235.90,108.80 C232.58,109.47 227.98,110.47 224.00,110.80 C220.02,111.13 216.67,110.87 212.00,110.80 C207.33,110.73 201.33,110.33 196.00,110.40 C190.67,110.47 184.33,111.27 180.00,111.20 C175.67,111.13 174.33,110.60 170.00,110.00 C165.67,109.40 158.67,108.65 154.00,107.60 C149.33,106.55 146.00,104.62 142.00,103.70 C138.00,102.78 134.67,102.23 130.00,102.10 C125.33,101.97 120.67,102.70 114.00,102.90 C107.33,103.10 95.67,103.20 90.00,103.30 C84.33,103.40 83.33,103.38 80.00,103.50 C76.67,103.62 73.33,103.83 70.00,104.00 C66.67,104.17 63.00,104.33 60.00,104.50 C57.00,104.67 53.67,104.42 52.00,105.00 C50.33,105.58 51.33,107.17 50.00,108.00 C48.67,108.83 46.00,110.00 44.00,110.00 C42.00,110.00 40.00,107.83 38.00,108.00 C36.00,108.17 34.33,111.00 32.00,111.00 C29.67,111.00 26.67,108.83 24.00,108.00 C21.33,107.17 17.67,107.00 16.00,106.00 C14.33,105.00 14.67,103.17 14.00,102.00 C13.33,100.83 13.00,100.00 12.00,99.00 C11.00,98.00 10.00,96.75 8.00,96.00 C6.00,95.25 1.83,94.75 0.00,94.50 C-1.83,94.25 -2.50,94.50 -3.00,94.50Z" fill="#f7b396"/><path d="M317.60,85.20 C318.60,84.57 321.27,84.03 325.00,83.70 C328.73,83.37 334.17,83.28 340.00,83.20 C345.83,83.12 355.67,83.03 360.00,83.20 C364.33,83.37 364.00,84.10 366.00,84.20 C368.00,84.30 369.67,83.73 372.00,83.80 C374.33,83.87 377.33,84.07 380.00,84.60 C382.67,85.13 385.87,86.73 388.00,87.00 C390.13,87.27 391.80,85.42 392.80,86.20 C393.80,86.98 393.93,89.78 394.00,91.70 C394.07,93.62 392.87,95.70 393.20,97.70 C393.53,99.70 395.00,102.18 396.00,103.70 C397.00,105.22 399.53,106.28 399.20,106.80 C398.87,107.32 395.87,107.45 394.00,106.80 C392.13,106.15 390.33,104.08 388.00,102.90 C385.67,101.72 382.47,100.23 380.00,99.70 C377.53,99.17 374.87,100.37 373.20,99.70 C371.53,99.03 371.53,96.63 370.00,95.70 C368.47,94.77 365.67,94.77 364.00,94.10 C362.33,93.43 360.82,92.48 360.00,91.70 C359.18,90.92 362.12,89.82 359.10,89.40 C356.08,88.98 347.58,89.27 341.90,89.20 C336.22,89.13 328.82,89.28 325.00,89.00 C321.18,88.72 320.23,88.13 319.00,87.50 C317.77,86.87 316.60,85.83 317.60,85.20Z" fill="#f29072"/><path d="M-42.40,85.20 C-41.40,84.57 -38.73,84.03 -35.00,83.70 C-31.27,83.37 -25.83,83.28 -20.00,83.20 C-14.17,83.12 -4.33,83.03 0.00,83.20 C4.33,83.37 4.00,84.10 6.00,84.20 C8.00,84.30 9.67,83.73 12.00,83.80 C14.33,83.87 17.33,84.07 20.00,84.60 C22.67,85.13 25.87,86.73 28.00,87.00 C30.13,87.27 31.80,85.42 32.80,86.20 C33.80,86.98 33.93,89.78 34.00,91.70 C34.07,93.62 32.87,95.70 33.20,97.70 C33.53,99.70 35.00,102.18 36.00,103.70 C37.00,105.22 39.53,106.28 39.20,106.80 C38.87,107.32 35.87,107.45 34.00,106.80 C32.13,106.15 30.33,104.08 28.00,102.90 C25.67,101.72 22.47,100.23 20.00,99.70 C17.53,99.17 14.87,100.37 13.20,99.70 C11.53,99.03 11.53,96.63 10.00,95.70 C8.47,94.77 5.67,94.77 4.00,94.10 C2.33,93.43 0.82,92.48 0.00,91.70 C-0.82,90.92 2.12,89.82 -0.90,89.40 C-3.92,88.98 -12.42,89.27 -18.10,89.20 C-23.78,89.13 -31.18,89.28 -35.00,89.00 C-38.82,88.72 -39.77,88.13 -41.00,87.50 C-42.23,86.87 -43.40,85.83 -42.40,85.20Z" fill="#f29072"/><path d="M55.10,85.80 C55.90,85.27 55.77,84.87 59.90,84.60 C64.03,84.33 74.88,84.55 79.90,84.20 C84.92,83.85 87.32,83.20 90.00,82.50 C92.68,81.80 94.33,81.08 96.00,80.00 C97.67,78.92 98.67,77.25 100.00,76.00 C101.33,74.75 102.67,73.33 104.00,72.50 C105.33,71.67 106.67,71.10 108.00,71.00 C109.33,70.90 109.67,72.08 112.00,71.90 C114.33,71.72 117.67,70.10 122.00,69.90 C126.33,69.70 132.67,70.23 138.00,70.70 C143.33,71.17 148.67,71.97 154.00,72.70 C159.33,73.43 165.67,74.58 170.00,75.10 C174.33,75.62 175.67,75.57 180.00,75.80 C184.33,76.03 190.67,76.25 196.00,76.50 C201.33,76.75 206.67,77.05 212.00,77.30 C217.33,77.55 222.68,77.78 228.00,78.00 C233.32,78.22 239.25,78.35 243.90,78.60 C248.55,78.85 252.23,79.43 255.90,79.50 C259.57,79.57 263.55,79.33 265.90,79.00 C268.25,78.67 268.32,77.68 270.00,77.50 C271.68,77.32 274.33,77.38 276.00,77.90 C277.67,78.42 277.67,80.28 280.00,80.60 C282.33,80.92 287.00,79.80 290.00,79.80 C293.00,79.80 295.67,79.98 298.00,80.60 C300.33,81.22 302.17,82.35 304.00,83.50 C305.83,84.65 307.67,86.25 309.00,87.50 C310.33,88.75 310.83,90.08 312.00,91.00 C313.17,91.92 314.33,92.33 316.00,93.00 C317.67,93.67 320.50,94.17 322.00,95.00 C323.50,95.83 325.00,96.83 325.00,98.00 C325.00,99.17 322.83,101.18 322.00,102.00 C321.17,102.82 321.67,102.65 320.00,102.90 C318.33,103.15 314.33,102.98 312.00,103.50 C309.67,104.02 308.33,105.32 306.00,106.00 C303.67,106.68 300.67,108.10 298.00,107.60 C295.33,107.10 292.33,104.32 290.00,103.00 C287.67,101.68 285.67,100.58 284.00,99.70 C282.33,98.82 281.67,98.50 280.00,97.70 C278.33,96.90 275.67,95.77 274.00,94.90 C272.33,94.03 271.35,93.03 270.00,92.50 C268.65,91.97 267.58,92.08 265.90,91.70 C264.22,91.32 262.23,90.85 259.90,90.20 C257.57,89.55 254.57,88.40 251.90,87.80 C249.23,87.20 247.63,86.87 243.90,86.60 C240.17,86.33 231.97,84.28 229.50,86.20 C227.03,88.12 229.83,95.72 229.10,98.10 C228.37,100.48 225.90,99.57 225.10,100.50 C224.30,101.43 225.15,102.85 224.30,103.70 C223.45,104.55 223.38,105.22 220.00,105.60 C216.62,105.98 209.33,105.87 204.00,106.00 C198.67,106.13 192.00,106.27 188.00,106.40 C184.00,106.53 183.67,107.07 180.00,106.80 C176.33,106.53 171.00,105.58 166.00,104.80 C161.00,104.02 154.67,102.95 150.00,102.10 C145.33,101.25 142.00,100.37 138.00,99.70 C134.00,99.03 130.00,98.10 126.00,98.10 C122.00,98.10 120.00,99.47 114.00,99.70 C108.00,99.93 97.02,99.57 90.00,99.50 C82.98,99.43 77.58,99.40 71.90,99.30 C66.22,99.20 59.57,99.37 55.90,98.90 C52.23,98.43 50.83,97.57 49.90,96.50 C48.97,95.43 49.43,93.95 50.30,92.50 C51.17,91.05 54.30,88.92 55.10,87.80 C55.90,86.68 54.30,86.33 55.10,85.80Z" fill="#f29072"/><path d="M74.50,76.00 C74.83,75.58 76.25,75.83 77.00,76.50 C77.75,77.17 78.75,79.08 79.00,80.00 C79.25,80.92 78.92,81.75 78.50,82.00 C78.08,82.25 77.08,82.00 76.50,81.50 C75.92,81.00 75.33,79.92 75.00,79.00 C74.67,78.08 74.17,76.42 74.50,76.00Z" fill="#f29072"/><path d="M167.50,90.20 C167.50,89.75 171.82,89.00 173.90,88.60 C175.98,88.20 176.32,88.00 180.00,87.80 C183.68,87.60 190.67,87.60 196.00,87.40 C201.33,87.20 206.42,86.80 212.00,86.60 C217.58,86.40 226.65,84.28 229.50,86.20 C232.35,88.12 230.68,96.52 229.10,98.10 C227.52,99.68 224.18,96.43 220.00,95.70 C215.82,94.97 210.67,94.23 204.00,93.70 C197.33,93.17 185.02,92.90 180.00,92.50 C174.98,92.10 175.98,91.68 173.90,91.30 C171.82,90.92 167.50,90.65 167.50,90.20Z" fill="#f7b396"/><path d="M190.00,90.20 C190.00,89.72 199.00,88.93 204.00,88.60 C209.00,88.27 214.68,88.27 220.00,88.20 C225.32,88.13 231.25,88.00 235.90,88.20 C240.55,88.40 244.90,88.82 247.90,89.40 C250.90,89.98 252.90,90.98 253.90,91.70 C254.90,92.42 254.70,93.10 253.90,93.70 C253.10,94.30 251.42,95.17 249.10,95.30 C246.78,95.43 244.85,94.97 240.00,94.50 C235.15,94.03 226.00,93.00 220.00,92.50 C214.00,92.00 209.00,91.88 204.00,91.50 C199.00,91.12 190.00,90.68 190.00,90.20Z" fill="#f1cdba"/><path d="M280.00,76.80 C280.00,76.30 282.55,75.58 284.00,75.20 C285.45,74.82 287.03,74.53 288.70,74.50 C290.37,74.47 292.45,74.67 294.00,75.00 C295.55,75.33 298.00,75.97 298.00,76.50 C298.00,77.03 295.33,77.83 294.00,78.20 C292.67,78.57 291.67,78.70 290.00,78.70 C288.33,78.70 285.67,78.52 284.00,78.20 C282.33,77.88 280.00,77.30 280.00,76.80Z" fill="#f1cdba"/><path d="M158.00,83.80 C159.67,83.40 166.33,82.87 170.00,82.60 C173.67,82.33 175.67,82.33 180.00,82.20 C184.33,82.07 190.67,81.93 196.00,81.80 C201.33,81.67 207.33,81.43 212.00,81.40 C216.67,81.37 221.25,81.40 224.00,81.60 C226.75,81.80 229.17,82.23 228.50,82.60 C227.83,82.97 224.08,83.53 220.00,83.80 C215.92,84.07 209.33,84.00 204.00,84.20 C198.67,84.40 192.00,84.82 188.00,85.00 C184.00,85.18 183.00,85.23 180.00,85.30 C177.00,85.37 173.33,85.45 170.00,85.40 C166.67,85.35 162.00,85.27 160.00,85.00 C158.00,84.73 156.33,84.20 158.00,83.80Z" fill="#e0654f"/><path d="M148.00,94.90 C149.33,94.37 154.33,94.50 158.00,94.50 C161.67,94.50 166.33,94.73 170.00,94.90 C173.67,95.07 176.33,95.30 180.00,95.50 C183.67,95.70 188.07,95.67 192.00,96.10 C195.93,96.53 202.93,97.43 203.60,98.10 C204.27,98.77 199.93,99.45 196.00,100.10 C192.07,100.75 184.33,101.67 180.00,102.00 C175.67,102.33 173.00,102.35 170.00,102.10 C167.00,101.85 164.67,101.03 162.00,100.50 C159.33,99.97 156.00,99.37 154.00,98.90 C152.00,98.43 151.00,98.37 150.00,97.70 C149.00,97.03 146.67,95.43 148.00,94.90Z" fill="#e0654f"/><path d="M100.00,73.50 C100.87,72.97 103.73,72.43 105.20,72.70 C106.67,72.97 108.20,74.10 108.80,75.10 C109.40,76.10 109.40,77.65 108.80,78.70 C108.20,79.75 106.33,81.40 105.20,81.40 C104.07,81.40 102.87,79.62 102.00,78.70 C101.13,77.78 100.33,76.77 100.00,75.90 C99.67,75.03 99.13,74.03 100.00,73.50Z" fill="#e0654f"/><path d="M109.20,87.80 C110.00,87.07 112.53,86.20 114.00,85.40 C115.47,84.60 117.07,83.00 118.00,83.00 C118.93,83.00 119.47,84.07 119.60,85.40 C119.73,86.73 119.40,89.55 118.80,91.00 C118.20,92.45 117.47,93.85 116.00,94.10 C114.53,94.35 111.13,93.22 110.00,92.50 C108.87,91.78 109.33,90.58 109.20,89.80 C109.07,89.02 108.40,88.53 109.20,87.80Z" fill="#e0654f"/><path d="M95.20,84.20 C95.53,83.67 98.53,84.80 100.00,85.40 C101.47,86.00 102.87,86.55 104.00,87.80 C105.13,89.05 106.47,91.45 106.80,92.90 C107.13,94.35 106.80,96.37 106.00,96.50 C105.20,96.63 103.33,95.02 102.00,93.70 C100.67,92.38 99.13,90.18 98.00,88.60 C96.87,87.02 94.87,84.73 95.20,84.20Z" fill="#e0654f"/><path d="M131.20,91.30 C131.87,90.52 135.53,90.53 138.00,91.00 C140.47,91.47 144.00,92.92 146.00,94.10 C148.00,95.28 150.00,97.17 150.00,98.10 C150.00,99.03 147.67,99.43 146.00,99.70 C144.33,99.97 142.00,100.37 140.00,99.70 C138.00,99.03 135.47,97.10 134.00,95.70 C132.53,94.30 130.53,92.08 131.20,91.30Z" fill="#e0654f"/><path d="M272.80,87.00 C273.80,85.53 278.33,83.40 282.00,82.20 C285.67,81.00 290.80,79.27 294.80,79.80 C298.80,80.33 304.27,84.07 306.00,85.40 C307.73,86.73 305.87,86.42 305.20,87.80 C304.53,89.18 303.87,92.38 302.00,93.70 C300.13,95.02 296.67,95.23 294.00,95.70 C291.33,96.17 288.13,96.70 286.00,96.50 C283.87,96.30 282.87,95.42 281.20,94.50 C279.53,93.58 277.40,92.25 276.00,91.00 C274.60,89.75 271.80,88.47 272.80,87.00Z" fill="#e0654f"/><path d="M270.00,73.50 C271.67,73.43 275.33,74.57 276.00,75.10 C276.67,75.63 275.00,76.43 274.00,76.70 C273.00,76.97 271.33,76.90 270.00,76.70 C268.67,76.50 266.00,76.03 266.00,75.50 C266.00,74.97 268.33,73.57 270.00,73.50Z" fill="#e0654f"/><path d="M8.00,84.60 C9.13,84.00 13.33,86.87 16.00,87.40 C18.67,87.93 22.00,87.87 24.00,87.80 C26.00,87.73 26.80,87.00 28.00,87.00 C29.20,87.00 30.67,86.80 31.20,87.80 C31.73,88.80 32.07,91.95 31.20,93.00 C30.33,94.05 27.87,94.32 26.00,94.10 C24.13,93.88 21.67,91.30 20.00,91.70 C18.33,92.10 17.33,95.83 16.00,96.50 C14.67,97.17 13.13,96.62 12.00,95.70 C10.87,94.78 9.87,92.85 9.20,91.00 C8.53,89.15 6.87,85.20 8.00,84.60Z" fill="#e0654f"/><path d="M112.40,89.40 C112.73,88.42 115.07,85.67 116.00,85.40 C116.93,85.13 117.80,86.82 118.00,87.80 C118.20,88.78 117.87,90.72 117.20,91.30 C116.53,91.88 114.80,91.62 114.00,91.30 C113.20,90.98 112.07,90.38 112.40,89.40Z" fill="#c43032"/><path d="M136.00,92.50 C136.33,91.90 138.33,91.70 140.00,92.10 C141.67,92.50 144.88,93.97 146.00,94.90 C147.12,95.83 147.37,97.17 146.70,97.70 C146.03,98.23 143.45,98.43 142.00,98.10 C140.55,97.77 139.00,96.63 138.00,95.70 C137.00,94.77 135.67,93.10 136.00,92.50Z" fill="#c43032"/><path d="M281.20,84.60 C282.13,82.95 285.53,82.43 286.00,83.00 C286.47,83.57 284.67,86.15 284.00,88.00 C283.33,89.85 282.60,93.28 282.00,94.10 C281.40,94.92 280.53,94.48 280.40,92.90 C280.27,91.32 280.27,86.25 281.20,84.60Z" fill="#c43032"/><path d="M10.80,87.00 C11.20,86.73 13.00,87.68 13.60,88.60 C14.20,89.52 14.53,91.78 14.40,92.50 C14.27,93.22 13.33,93.28 12.80,92.90 C12.27,92.52 11.53,91.18 11.20,90.20 C10.87,89.22 10.40,87.27 10.80,87.00Z" fill="#c43032"/><path d="M27.60,89.00 C27.90,88.58 29.27,88.92 29.60,89.50 C29.93,90.08 29.90,92.08 29.60,92.50 C29.30,92.92 28.13,92.58 27.80,92.00 C27.47,91.42 27.30,89.42 27.60,89.00Z" fill="#c43032"/></g>
<g id="field3"><rect x="-5" y="-5" width="370" height="190" fill="#dddcdc"/><path d="M128.80,87.00 C131.77,86.38 137.40,86.57 148.00,86.20 C158.60,85.83 182.53,84.67 192.40,84.80 C202.27,84.93 204.23,86.02 207.20,87.00 C210.17,87.98 205.27,89.48 210.20,90.70 C215.13,91.92 227.68,93.33 236.80,94.30 C245.92,95.27 259.60,95.75 264.90,96.50 C270.20,97.25 268.60,98.05 268.60,98.80 C268.60,99.55 268.97,100.52 264.90,101.00 C260.83,101.48 248.88,101.33 244.20,101.70 C239.52,102.07 233.10,102.22 236.80,103.20 C240.50,104.18 259.73,106.37 266.40,107.60 C273.07,108.83 275.32,109.37 276.80,110.60 C278.28,111.83 280.73,114.77 275.30,115.00 C269.87,115.23 254.32,113.23 244.20,112.00 C234.08,110.77 219.53,107.60 214.60,107.60 C209.67,107.60 215.83,111.50 214.60,112.00 C213.37,112.50 207.93,111.58 207.20,110.60 C206.47,109.62 215.13,108.57 210.20,106.10 C205.27,103.63 187.97,98.00 177.60,95.80 C167.23,93.60 155.90,93.88 148.00,92.90 C140.10,91.92 133.40,90.88 130.20,89.90 C127.00,88.92 125.83,87.62 128.80,87.00Z" fill="#f1cdba"/><path d="M217.60,109.80 C218.33,109.30 220.53,109.30 222.00,109.50 C223.47,109.70 226.40,110.33 226.40,111.00 C226.40,111.67 223.47,113.25 222.00,113.50 C220.53,113.75 218.33,113.12 217.60,112.50 C216.87,111.88 216.87,110.30 217.60,109.80Z" fill="#f1cdba"/><path d="M328.60,104.70 C330.27,104.03 336.30,103.95 340.00,105.00 C343.70,106.05 350.80,109.67 350.80,111.00 C350.80,112.33 343.47,113.33 340.00,113.00 C336.53,112.67 331.90,110.38 330.00,109.00 C328.10,107.62 326.93,105.37 328.60,104.70Z" fill="#f1cdba"/><path d="M278.20,75.90 C279.87,75.65 287.03,75.73 290.00,76.00 C292.97,76.27 296.00,77.02 296.00,77.50 C296.00,77.98 292.67,78.90 290.00,78.90 C287.33,78.90 281.97,78.00 280.00,77.50 C278.03,77.00 276.53,76.15 278.20,75.90Z" fill="#f1cdba"/><path d="M43.00,70.80 C44.17,70.22 49.30,71.38 52.00,72.00 C54.70,72.62 58.70,73.73 59.20,74.50 C59.70,75.27 57.37,76.43 55.00,76.60 C52.63,76.77 47.00,76.47 45.00,75.50 C43.00,74.53 41.83,71.38 43.00,70.80Z" fill="#f1cdba"/><path d="M302.00,85.50 C303.67,85.50 311.17,86.92 315.00,88.00 C318.83,89.08 324.50,91.25 325.00,92.00 C325.50,92.75 321.33,93.17 318.00,92.50 C314.67,91.83 307.67,89.17 305.00,88.00 C302.33,86.83 300.33,85.50 302.00,85.50Z" fill="#f1cdba"/><path d="M0.00,68.00 C2.80,66.68 6.62,66.03 11.80,67.10 C16.98,68.17 29.12,72.82 31.10,74.40 C33.08,75.98 26.42,75.62 23.70,76.60 C20.98,77.58 18.75,79.92 14.80,80.30 C10.85,80.68 3.30,79.78 0.00,78.90 C-3.30,78.02 -5.00,76.82 -5.00,75.00 C-5.00,73.18 -2.80,69.32 0.00,68.00Z" fill="#c3d5f4"/><path d="M360.00,68.00 C362.80,66.68 366.62,66.03 371.80,67.10 C376.98,68.17 389.12,72.82 391.10,74.40 C393.08,75.98 386.42,75.62 383.70,76.60 C380.98,77.58 378.75,79.92 374.80,80.30 C370.85,80.68 363.30,79.78 360.00,78.90 C356.70,78.02 355.00,76.82 355.00,75.00 C355.00,73.18 357.20,69.32 360.00,68.00Z" fill="#c3d5f4"/><path d="M145.80,44.20 C147.77,43.48 155.63,44.13 157.60,45.20 C159.57,46.27 159.57,49.88 157.60,50.60 C155.63,51.32 147.77,50.57 145.80,49.50 C143.83,48.43 143.83,44.92 145.80,44.20Z" fill="#c3d5f4"/><path d="M99.20,101.70 C101.87,100.12 112.37,100.45 120.00,100.50 C127.63,100.55 141.67,100.75 145.00,102.00 C148.33,103.25 144.17,106.83 140.00,108.00 C135.83,109.17 126.00,108.67 120.00,109.00 C114.00,109.33 107.47,111.22 104.00,110.00 C100.53,108.78 96.53,103.28 99.20,101.70Z" fill="#c3d5f4"/><path d="M159.80,107.60 C161.13,106.27 166.53,106.00 170.00,106.00 C173.47,106.00 179.27,106.10 180.60,107.60 C181.93,109.10 179.43,113.03 178.00,115.00 C176.57,116.97 174.67,119.57 172.00,119.40 C169.33,119.23 164.03,115.97 162.00,114.00 C159.97,112.03 158.47,108.93 159.80,107.60Z" fill="#c3d5f4"/><path d="M348.50,65.00 C350.42,63.00 357.25,64.17 360.00,65.00 C362.75,65.83 365.00,67.82 365.00,70.00 C365.00,72.18 362.75,76.93 360.00,78.10 C357.25,79.27 350.42,79.18 348.50,77.00 C346.58,74.82 346.58,67.00 348.50,65.00Z" fill="#c3d5f4"/><path d="M-11.50,65.00 C-9.58,63.00 -2.75,64.17 0.00,65.00 C2.75,65.83 5.00,67.82 5.00,70.00 C5.00,72.18 2.75,76.93 0.00,78.10 C-2.75,79.27 -9.58,79.18 -11.50,77.00 C-13.42,74.82 -13.42,67.00 -11.50,65.00Z" fill="#c3d5f4"/><path d="M102.00,50.00 C102.67,47.67 109.83,47.17 112.00,48.00 C114.17,48.83 115.00,51.33 115.00,55.00 C115.00,58.67 113.50,66.67 112.00,70.00 C110.50,73.33 106.67,76.33 106.00,75.00 C105.33,73.67 108.67,66.17 108.00,62.00 C107.33,57.83 101.33,52.33 102.00,50.00Z" fill="#c3d5f4"/></g>
<g id="white1"><path d="M62.80,56.00 L65.40,53.90 L66.80,53.10 L68.60,52.90 L67.80,51.30 L70.50,48.10 L72.90,46.80 L77.70,46.20 L81.50,44.60 L82.80,45.40 L86.60,45.40 L88.40,47.00 L86.30,49.20 L82.30,49.20 L78.80,51.00 L80.10,51.80 L82.80,51.80 L84.10,51.00 L86.80,50.20 L90.30,49.95 L94.00,49.20 L94.00,48.10 L95.60,47.30 L97.80,47.30 L101.30,50.20 L103.90,50.20 L106.30,52.10 L108.50,52.90 L107.40,53.90 L107.40,56.30 L105.00,58.50 L104.20,60.30 L106.30,63.30 L106.30,64.30 L104.20,66.70 L100.50,67.00 L97.80,64.30 L97.20,63.60 L93.20,63.00 L92.40,63.80 L89.00,63.80 L86.00,63.00 L83.30,62.70 L80.90,61.40 L78.50,60.10 L76.90,60.10 L76.70,58.50 L74.80,56.60 L71.30,56.60 L70.00,57.70 L70.00,58.50 L67.60,60.10 L65.70,60.10 L65.20,58.20Z" fill="#fff"/><path d="M85.40,39.80 L86.00,39.00 L87.90,38.80 L89.00,38.00 L91.60,38.00 L94.00,39.80 L95.40,38.80 L95.40,37.70 L97.50,36.10 L99.40,36.10 L100.50,36.90 L102.10,37.20 L102.90,38.20 L103.90,39.80 L103.90,41.70 L106.10,43.40 L104.20,45.40 L105.00,46.20 L103.90,47.00 L101.50,47.00 L100.50,46.20 L92.70,46.10 L85.50,40.60Z" fill="#fff"/><path d="M106.90,42.50 L109.00,40.90 L110.40,42.20 L108.50,43.30Z" fill="#fff"/><path d="M36.80,50.70 L44.00,48.50 L47.00,51.00 L58.30,60.00 L56.00,61.80 L52.00,59.50 L42.00,52.30Z" fill="#fff"/><path d="M38.40,75.70 L40.00,76.90 L41.20,80.50 L41.20,84.40 L36.80,84.40 L35.20,82.80 L35.20,80.10 L36.40,77.70Z" fill="#fff"/><path d="M34.00,89.00 C34.40,88.42 36.67,88.88 37.20,89.40 C37.73,89.92 37.60,91.52 37.20,92.10 C36.80,92.68 35.33,93.42 34.80,92.90 C34.27,92.38 33.60,89.58 34.00,89.00Z" fill="#fff"/><path d="M29.20,91.30 C29.40,90.97 30.53,91.37 30.80,91.70 C31.07,92.03 31.00,92.97 30.80,93.30 C30.60,93.63 29.87,94.03 29.60,93.70 C29.33,93.37 29.00,91.63 29.20,91.30Z" fill="#fff"/><path d="M15.20,102.10 C15.73,101.97 18.13,102.58 18.40,102.90 C18.67,103.22 17.33,103.87 16.80,104.00 C16.27,104.13 15.47,104.02 15.20,103.70 C14.93,103.38 14.67,102.23 15.20,102.10Z" fill="#fff"/><path d="M16.40,111.20 C16.60,111.00 18.27,111.33 18.40,111.60 C18.53,111.87 17.53,112.87 17.20,112.80 C16.87,112.73 16.20,111.40 16.40,111.20Z" fill="#fff"/><path d="M26.60,119.40 C26.73,118.67 28.33,116.73 28.90,116.50 C29.47,116.27 30.13,117.27 30.00,118.00 C29.87,118.73 28.67,120.67 28.10,120.90 C27.53,121.13 26.47,120.13 26.60,119.40Z" fill="#fff"/><path d="M300.00,11.50 L304.00,9.70 L312.00,8.70 L325.90,8.70 L333.10,11.50 L335.50,14.30 L332.30,17.90 L331.90,20.60 L325.90,22.20 L319.90,23.80 L317.50,28.20 L313.10,28.20 L312.30,19.80 L308.00,16.70 L304.00,13.50Z" fill="#fff"/><path d="M239.40,37.10 L241.20,36.10 L243.30,36.10 L246.90,38.90 L246.90,40.40 L245.40,41.30 L243.30,40.10 L239.70,37.40Z" fill="#fff"/><path d="M244.80,43.40 L247.80,41.60 L251.70,43.40 L256.20,46.60 L258.10,48.40 L258.10,55.30 L256.20,56.70 L254.40,58.50 L256.20,62.10 L257.10,62.70 L259.80,64.50 L262.10,68.00 L263.90,71.60 L262.70,72.50 L259.80,71.00 L255.90,67.40 L252.60,63.60 L251.70,59.70 L250.80,58.20 L247.20,54.40 L244.50,53.50 L241.20,53.20 L240.90,50.50 L239.40,49.60 L239.40,47.50 L240.90,46.30 L243.30,46.00 L243.60,44.80Z" fill="#fff"/><path d="M281.60,95.70 L284.00,95.30 L285.20,98.90 L288.80,102.10 L297.20,107.20 L297.20,115.00 L296.00,120.00 L294.00,123.00 L292.40,126.60 L291.00,127.00 L290.50,122.00 L291.20,118.00 L290.00,107.60 L284.80,103.70 L281.60,97.70Z" fill="#fff"/><path d="M284.80,84.20 C285.38,83.93 287.80,84.42 288.00,84.80 C288.20,85.18 286.58,86.23 286.00,86.50 C285.42,86.77 284.70,86.78 284.50,86.40 C284.30,86.02 284.22,84.47 284.80,84.20Z" fill="#fff"/><path d="M281.20,89.20 C281.70,88.70 283.78,88.42 284.00,88.80 C284.22,89.18 283.00,91.00 282.50,91.50 C282.00,92.00 281.22,92.18 281.00,91.80 C280.78,91.42 280.70,89.70 281.20,89.20Z" fill="#fff"/><path d="M-3.00,161.80 C-2.50,161.80 -1.73,162.02 0.00,161.80 C1.73,161.58 3.70,160.67 7.40,160.50 C11.10,160.33 17.88,161.05 22.20,160.80 C26.52,160.55 30.47,159.13 33.30,159.00 C36.13,158.87 37.35,160.12 39.20,160.00 C41.05,159.88 42.30,158.90 44.40,158.30 C46.50,157.70 49.70,156.72 51.80,156.40 C53.90,156.08 55.15,156.08 57.00,156.40 C58.85,156.72 60.93,157.93 62.90,158.30 C64.87,158.67 67.93,157.93 68.80,158.60 C69.67,159.27 67.73,161.68 68.10,162.30 C68.47,162.92 70.02,162.60 71.00,162.30 C71.98,162.00 72.52,161.17 74.00,160.50 C75.48,159.83 77.57,158.92 79.90,158.30 C82.23,157.68 85.28,156.93 88.00,156.80 C90.72,156.67 93.73,157.63 96.20,157.50 C98.67,157.37 100.83,156.00 102.80,156.00 C104.77,156.00 106.15,157.43 108.00,157.50 C109.85,157.57 111.93,156.40 113.90,156.40 C115.87,156.40 116.22,157.50 119.80,157.50 C123.38,157.50 130.95,156.40 135.40,156.40 C139.85,156.40 143.17,157.00 146.50,157.50 C149.83,158.00 152.82,158.82 155.40,159.40 C157.98,159.98 161.23,160.07 162.00,161.00 C162.77,161.93 160.67,163.75 160.00,165.00 C159.33,166.25 158.33,167.50 158.00,168.50 C157.67,169.50 157.17,170.20 158.00,171.00 C158.83,171.80 159.33,172.68 163.00,173.30 C166.67,173.92 170.38,174.40 180.00,174.70 C189.62,175.00 210.58,175.35 220.70,175.10 C230.82,174.85 239.60,174.13 240.70,173.20 C241.80,172.27 230.63,170.48 227.30,169.50 C223.97,168.52 220.93,168.03 220.70,167.30 C220.47,166.57 222.20,165.47 225.90,165.10 C229.60,164.73 238.47,164.92 242.90,165.10 C247.33,165.28 247.70,166.07 252.50,166.20 C257.30,166.33 267.63,165.28 271.70,165.90 C275.77,166.52 275.78,168.80 276.90,169.90 C278.02,171.00 276.92,171.82 278.40,172.50 C279.88,173.18 279.27,173.93 285.80,174.00 C292.33,174.07 308.72,173.65 317.60,172.90 C326.48,172.15 336.02,170.43 339.10,169.50 C342.18,168.57 334.75,168.28 336.10,167.30 C337.45,166.32 343.22,164.52 347.20,163.60 C351.18,162.68 357.37,162.10 360.00,161.80 C362.63,161.50 362.50,161.80 363.00,161.80 L363,185 L-3,185Z" fill="#fff"/></g>
<g id="white3"><path d="M62.80,56.00 L65.40,53.90 L66.80,53.10 L68.60,52.90 L67.80,51.30 L70.50,48.10 L72.90,46.80 L77.70,46.20 L81.50,44.60 L82.80,45.40 L86.60,45.40 L88.40,47.00 L86.30,49.20 L82.30,49.20 L78.80,51.00 L80.10,51.80 L82.80,51.80 L84.10,51.00 L86.80,50.20 L90.30,49.95 L94.00,49.20 L94.00,48.10 L95.60,47.30 L97.80,47.30 L101.30,50.20 L103.90,50.20 L106.30,52.10 L108.50,52.90 L107.40,53.90 L107.40,56.30 L105.00,58.50 L104.20,60.30 L106.30,63.30 L106.30,64.30 L104.20,66.70 L100.50,67.00 L97.80,64.30 L97.20,63.60 L93.20,63.00 L92.40,63.80 L89.00,63.80 L86.00,63.00 L83.30,62.70 L80.90,61.40 L78.50,60.10 L76.90,60.10 L76.70,58.50 L74.80,56.60 L71.30,56.60 L70.00,57.70 L70.00,58.50 L67.60,60.10 L65.70,60.10 L65.20,58.20Z" fill="#fff"/><path d="M85.40,39.80 L86.00,39.00 L87.90,38.80 L89.00,38.00 L91.60,38.00 L94.00,39.80 L95.40,38.80 L95.40,37.70 L97.50,36.10 L99.40,36.10 L100.50,36.90 L102.10,37.20 L102.90,38.20 L103.90,39.80 L103.90,41.70 L106.10,43.40 L104.20,45.40 L105.00,46.20 L103.90,47.00 L101.50,47.00 L100.50,46.20 L92.70,46.10 L85.50,40.60Z" fill="#fff"/><path d="M106.90,42.50 L109.00,40.90 L110.40,42.20 L108.50,43.30Z" fill="#fff"/><path d="M36.80,50.70 L44.00,48.50 L47.00,51.00 L58.30,60.00 L56.00,61.80 L52.00,59.50 L42.00,52.30Z" fill="#fff"/><path d="M38.40,75.70 L40.00,76.90 L41.20,80.50 L41.20,84.40 L36.80,84.40 L35.20,82.80 L35.20,80.10 L36.40,77.70Z" fill="#fff"/><path d="M34.00,89.00 C34.40,88.42 36.67,88.88 37.20,89.40 C37.73,89.92 37.60,91.52 37.20,92.10 C36.80,92.68 35.33,93.42 34.80,92.90 C34.27,92.38 33.60,89.58 34.00,89.00Z" fill="#fff"/><path d="M29.20,91.30 C29.40,90.97 30.53,91.37 30.80,91.70 C31.07,92.03 31.00,92.97 30.80,93.30 C30.60,93.63 29.87,94.03 29.60,93.70 C29.33,93.37 29.00,91.63 29.20,91.30Z" fill="#fff"/><path d="M15.20,102.10 C15.73,101.97 18.13,102.58 18.40,102.90 C18.67,103.22 17.33,103.87 16.80,104.00 C16.27,104.13 15.47,104.02 15.20,103.70 C14.93,103.38 14.67,102.23 15.20,102.10Z" fill="#fff"/><path d="M16.40,111.20 C16.60,111.00 18.27,111.33 18.40,111.60 C18.53,111.87 17.53,112.87 17.20,112.80 C16.87,112.73 16.20,111.40 16.40,111.20Z" fill="#fff"/><path d="M26.60,119.40 C26.73,118.67 28.33,116.73 28.90,116.50 C29.47,116.27 30.13,117.27 30.00,118.00 C29.87,118.73 28.67,120.67 28.10,120.90 C27.53,121.13 26.47,120.13 26.60,119.40Z" fill="#fff"/><path d="M300.00,11.50 L304.00,9.70 L312.00,8.70 L325.90,8.70 L333.10,11.50 L335.50,14.30 L332.30,17.90 L331.90,20.60 L325.90,22.20 L319.90,23.80 L317.50,28.20 L313.10,28.20 L312.30,19.80 L308.00,16.70 L304.00,13.50Z" fill="#fff"/><path d="M239.40,37.10 L241.20,36.10 L243.30,36.10 L246.90,38.90 L246.90,40.40 L245.40,41.30 L243.30,40.10 L239.70,37.40Z" fill="#fff"/><path d="M244.80,43.40 L247.80,41.60 L251.70,43.40 L256.20,46.60 L258.10,48.40 L258.10,55.30 L256.20,56.70 L254.40,58.50 L256.20,62.10 L257.10,62.70 L259.80,64.50 L262.10,68.00 L263.90,71.60 L262.70,72.50 L259.80,71.00 L255.90,67.40 L252.60,63.60 L251.70,59.70 L250.80,58.20 L247.20,54.40 L244.50,53.50 L241.20,53.20 L240.90,50.50 L239.40,49.60 L239.40,47.50 L240.90,46.30 L243.30,46.00 L243.60,44.80Z" fill="#fff"/><path d="M281.60,95.70 L284.00,95.30 L285.20,98.90 L288.80,102.10 L297.20,107.20 L297.20,115.00 L296.00,120.00 L294.00,123.00 L292.40,126.60 L291.00,127.00 L290.50,122.00 L291.20,118.00 L290.00,107.60 L284.80,103.70 L281.60,97.70Z" fill="#fff"/><path d="M284.80,84.20 C285.38,83.93 287.80,84.42 288.00,84.80 C288.20,85.18 286.58,86.23 286.00,86.50 C285.42,86.77 284.70,86.78 284.50,86.40 C284.30,86.02 284.22,84.47 284.80,84.20Z" fill="#fff"/><path d="M281.20,89.20 C281.70,88.70 283.78,88.42 284.00,88.80 C284.22,89.18 283.00,91.00 282.50,91.50 C282.00,92.00 281.22,92.18 281.00,91.80 C280.78,91.42 280.70,89.70 281.20,89.20Z" fill="#fff"/><path d="M-3.00,161.80 C-2.50,161.80 -1.73,162.02 0.00,161.80 C1.73,161.58 3.70,160.67 7.40,160.50 C11.10,160.33 17.88,161.05 22.20,160.80 C26.52,160.55 30.47,159.13 33.30,159.00 C36.13,158.87 37.35,160.12 39.20,160.00 C41.05,159.88 42.30,158.90 44.40,158.30 C46.50,157.70 49.70,156.72 51.80,156.40 C53.90,156.08 55.15,156.08 57.00,156.40 C58.85,156.72 60.93,157.93 62.90,158.30 C64.87,158.67 67.93,157.93 68.80,158.60 C69.67,159.27 67.73,161.68 68.10,162.30 C68.47,162.92 70.02,162.60 71.00,162.30 C71.98,162.00 72.52,161.17 74.00,160.50 C75.48,159.83 77.57,158.92 79.90,158.30 C82.23,157.68 85.28,156.93 88.00,156.80 C90.72,156.67 93.73,157.63 96.20,157.50 C98.67,157.37 100.83,156.00 102.80,156.00 C104.77,156.00 106.15,157.43 108.00,157.50 C109.85,157.57 111.93,156.40 113.90,156.40 C115.87,156.40 116.22,157.50 119.80,157.50 C123.38,157.50 130.95,156.40 135.40,156.40 C139.85,156.40 143.17,157.00 146.50,157.50 C149.83,158.00 152.82,158.82 155.40,159.40 C157.98,159.98 161.23,160.07 162.00,161.00 C162.77,161.93 160.67,163.75 160.00,165.00 C159.33,166.25 158.33,167.50 158.00,168.50 C157.67,169.50 157.17,170.20 158.00,171.00 C158.83,171.80 159.33,172.68 163.00,173.30 C166.67,173.92 170.38,174.40 180.00,174.70 C189.62,175.00 210.58,175.35 220.70,175.10 C230.82,174.85 239.60,174.13 240.70,173.20 C241.80,172.27 230.63,170.48 227.30,169.50 C223.97,168.52 220.93,168.03 220.70,167.30 C220.47,166.57 222.20,165.47 225.90,165.10 C229.60,164.73 238.47,164.92 242.90,165.10 C247.33,165.28 247.70,166.07 252.50,166.20 C257.30,166.33 267.63,165.28 271.70,165.90 C275.77,166.52 275.78,168.80 276.90,169.90 C278.02,171.00 276.92,171.82 278.40,172.50 C279.88,173.18 279.27,173.93 285.80,174.00 C292.33,174.07 308.72,173.65 317.60,172.90 C326.48,172.15 336.02,170.43 339.10,169.50 C342.18,168.57 334.75,168.28 336.10,167.30 C337.45,166.32 343.22,164.52 347.20,163.60 C351.18,162.68 357.37,162.10 360.00,161.80 C362.63,161.50 362.50,161.80 363.00,161.80 L363,185 L-3,185Z" fill="#fff"/></g>
<g id="coast"><path d="M-5.80,54.20 L-6.80,56.00 L-7.60,56.40 L-9.30,57.50 L-9.80,58.60 L-9.60,59.60 L-11.00,61.20 L-12.90,62.10 L-14.50,63.80 L-15.90,66.30 L-17.05,69.20 L-16.20,71.00 L-16.00,72.00 L-16.50,74.00 L-17.50,75.30 L-16.80,76.60 L-16.60,77.80 L-15.20,79.00 L-13.70,80.50 L-13.20,81.80 L-11.40,83.20 L-10.80,83.70 L-7.50,85.60 L-4.00,84.80 L-2.00,85.30 L-0.20,84.50 L1.20,83.90 L3.40,83.60 L4.80,84.00 L6.00,85.70 L7.00,85.60 L8.30,85.20 L9.70,86.00 L9.50,88.00 L9.40,89.60 L8.80,90.80 L9.90,93.00 L11.80,94.80 L12.30,96.00 L13.20,98.80 L13.40,102.60 L12.10,105.20 L11.80,107.30 L13.50,110.90 L14.50,112.90 L15.20,116.60 L16.50,118.60 L17.30,120.50 L17.90,122.80 L18.40,123.90 L18.50,124.40 L20.00,124.80 L22.50,124.00 L25.60,124.00 L27.90,123.00 L30.00,121.00 L31.00,119.90 L32.40,118.50 L32.90,116.20 L32.60,116.00 L35.40,113.90 L35.50,112.00 L34.90,109.80 L36.90,107.90 L39.50,106.50 L40.70,105.00 L40.50,102.50 L40.60,100.50 L39.30,98.20 L39.30,96.80 L39.70,94.00 L41.00,92.00 L42.50,90.40 L45.30,88.00 L47.00,86.00 L48.50,84.70 L50.00,82.00 L51.30,79.60 L51.30,78.20 L49.00,78.70 L45.00,79.60 L43.30,78.10 L43.10,78.40 L43.30,77.40 L42.70,77.00 L41.50,76.00 L39.50,74.40 L38.50,72.00 L37.20,70.40 L36.50,68.00 L35.60,66.10 L34.50,64.00 L33.80,62.70 L32.60,60.10 L33.50,61.70 L34.25,62.30 L35.00,60.50 L34.40,58.50 L32.30,58.70 L29.90,58.80 L28.90,59.20 L25.00,58.40 L24.00,57.90 L21.50,57.10 L20.10,57.90 L19.00,59.70 L17.00,58.90 L15.10,57.60 L13.20,57.10 L11.30,56.80 L10.10,56.10 L10.80,55.30 L11.10,54.40 L11.00,52.90 L9.90,52.70 L8.60,53.10 L5.00,53.20 L3.10,53.20 L1.00,53.50 L-0.60,54.30 L-2.20,54.90 L-4.00,54.80 L-5.80,54.20 M-5.40,53.90 L-6.30,53.50 L-7.50,52.80 L-9.00,53.00 L-8.80,51.80 L-9.50,51.30 L-8.70,48.80 L-8.90,47.80 L-9.30,47.10 L-8.40,46.60 L-5.70,46.40 L-2.90,46.60 L-1.50,46.50 L-1.20,45.40 L-1.20,43.80 L-2.50,42.70 L-4.80,41.60 L-3.00,41.20 L-2.00,41.40 L-1.60,40.30 L0.10,40.50 L1.60,39.90 L1.90,39.00 L2.90,38.80 L4.10,38.00 L4.80,37.00 L6.80,36.60 L8.70,36.10 L8.60,34.70 L8.30,34.50 L8.20,33.00 L10.60,32.30 L10.30,33.50 L10.90,33.80 L9.80,35.00 L10.20,35.60 L10.90,36.04 L12.10,35.80 L13.50,35.50 L14.30,36.10 L16.50,35.50 L18.70,35.60 L20.00,35.10 L21.10,34.30 L21.20,33.00 L22.50,32.40 L24.10,33.00 L23.50,31.00 L24.70,30.60 L28.00,30.50 L30.30,30.10 L28.50,29.50 L25.00,29.80 L22.30,29.60 L21.40,28.50 L21.60,26.90 L24.50,25.50 L25.50,25.00 L24.30,24.20 L22.10,24.40 L21.30,25.20 L20.30,26.20 L18.00,27.20 L17.30,27.60 L17.30,29.00 L18.50,29.80 L18.10,30.70 L16.50,32.50 L16.40,33.30 L14.50,34.00 L13.00,34.40 L12.80,33.40 L11.90,32.30 L11.20,31.10 L10.70,30.10 L10.00,31.00 L8.00,31.90 L5.70,31.03 L5.30,29.60 L5.00,28.50 L6.15,27.50 L8.50,26.60 L10.40,26.00 L12.50,24.50 L14.40,22.70 L16.00,21.50 L18.90,20.40 L22.00,19.70 L25.80,18.90 L28.50,19.10 L30.00,20.10 L33.10,20.70 L36.50,21.00 L41.00,22.30 L40.50,23.60 L38.00,23.90 L35.00,23.50 L34.50,25.00 L36.50,25.70 L37.50,26.20 L40.50,25.50 L42.00,23.70 L43.50,21.50 L46.00,22.20 L48.00,22.40 L51.00,21.70 L54.00,21.70 L57.00,21.40 L60.00,20.20 L62.00,20.50 L65.00,20.80 L68.50,21.80 L67.00,20.00 L68.00,17.70 L69.00,17.00 L71.50,17.20 L72.50,19.00 L72.50,22.00 L74.00,22.80 L75.00,21.00 L73.50,18.50 L75.00,17.40 L77.00,17.80 L80.00,17.70 L81.00,16.40 L86.00,16.00 L87.00,14.80 L92.00,14.20 L98.00,13.70 L104.30,12.30 L107.00,13.20 L111.00,13.50 L113.00,14.50 L110.00,16.00 L112.00,16.50 L117.00,16.50 L120.00,17.10 L124.00,16.40 L127.00,16.50 L129.50,17.50 L129.00,19.00 L132.00,18.50 L135.00,18.40 L139.50,17.60 L141.00,17.30 L146.00,17.70 L150.00,18.50 L153.00,19.10 L157.00,19.00 L160.00,19.80 L161.00,20.50 L165.00,20.40 L168.50,20.10 L170.50,20.00 L174.00,20.20 L178.00,20.70 L180.00,21.10 L184.00,22.50 L187.50,23.20 L190.30,23.90 L188.00,24.60 L186.80,25.60 L183.50,25.20 L182.00,26.00 L178.50,25.50 L177.50,25.30 L176.00,26.00 L179.10,27.70 L175.00,28.20 L173.00,29.00 L170.40,30.00 L166.00,30.00 L163.50,30.50 L163.00,32.00 L162.50,33.50 L161.50,35.00 L159.80,36.80 L158.30,37.80 L156.70,39.10 L155.60,37.00 L155.80,34.00 L156.70,32.50 L158.50,32.00 L161.00,29.50 L163.00,28.00 L160.00,28.50 L158.00,28.30 L155.00,30.50 L152.00,31.00 L150.80,30.40 L148.00,30.70 L145.00,30.60 L143.20,30.60 L141.00,31.50 L138.20,33.60 L135.50,35.30 L138.00,36.00 L140.00,36.50 L141.20,37.10 L140.50,38.50 L140.30,41.00 L138.50,43.00 L136.00,45.00 L133.00,47.20 L131.90,46.90 L130.70,47.70 L129.80,48.20 L128.50,49.80 L127.40,50.80 L128.80,52.50 L129.40,54.00 L129.00,54.90 L127.50,55.40 L126.40,55.20 L126.50,53.50 L126.60,52.50 L125.30,52.10 L125.00,51.30 L124.60,50.40 L121.60,50.00 L121.20,51.20 L122.20,49.30 L121.00,49.10 L119.50,50.10 L117.70,51.00 L118.90,52.30 L120.50,52.40 L122.70,52.60 L121.00,53.40 L120.40,53.90 L119.40,55.40 L120.50,56.70 L121.90,58.20 L121.90,58.80 L121.00,59.40 L122.00,60.20 L121.50,61.50 L120.90,62.00 L119.60,64.00 L118.60,65.10 L118.10,65.50 L116.70,66.70 L114.20,67.70 L112.50,68.20 L110.40,68.80 L110.00,69.70 L109.60,68.30 L108.00,68.50 L106.70,69.20 L105.90,70.30 L105.70,71.30 L106.60,72.50 L107.60,73.50 L108.80,74.70 L109.20,76.20 L109.20,78.00 L108.50,78.90 L107.10,79.70 L106.20,80.50 L104.80,81.40 L105.00,80.00 L104.20,79.40 L103.00,78.50 L102.00,77.50 L100.80,77.20 L100.50,76.50 L99.90,77.50 L99.20,79.50 L99.60,81.00 L100.60,82.80 L101.50,83.20 L102.20,83.90 L103.40,85.50 L103.40,86.20 L104.20,88.50 L103.50,88.70 L102.20,87.80 L101.30,87.00 L100.50,85.50 L100.30,84.60 L100.20,83.50 L98.60,82.10 L98.30,81.00 L98.60,80.00 L98.60,78.00 L98.20,75.90 L97.60,73.50 L96.50,73.40 L95.30,74.20 L94.30,74.00 L94.50,72.20 L93.60,70.50 L92.90,69.90 L92.00,68.50 L91.80,67.70 L90.50,67.40 L89.50,68.20 L88.00,68.40 L87.00,68.70 L86.70,69.70 L85.00,70.70 L83.30,72.30 L82.30,73.10 L81.20,73.80 L80.30,74.70 L80.30,76.90 L79.80,78.70 L79.90,79.70 L79.10,80.70 L78.20,81.20 L77.50,81.90 L76.60,81.10 L76.20,80.00 L75.50,78.20 L74.80,77.10 L74.30,75.50 L73.80,74.50 L73.20,72.80 L72.80,71.00 L72.90,69.50 L72.60,68.90 L72.50,67.70 L71.50,68.90 L71.00,69.30 L69.60,68.40 L69.00,67.70 L70.30,67.10 L68.80,66.70 L67.50,66.00 L67.00,65.20 L65.50,64.60 L62.30,64.90 L60.00,64.60 L57.80,64.40 L57.00,63.20 L56.30,62.80 L54.50,63.40 L52.50,62.40 L50.80,61.00 L50.00,59.90 L48.50,60.00 L48.00,60.70 L48.50,62.00 L49.50,63.00 L50.10,63.60 L50.80,64.70 L51.20,63.90 L51.60,64.70 L51.00,65.40 L52.00,66.00 L54.40,65.50 L55.30,64.70 L56.10,64.00 L56.30,63.60 L56.40,65.00 L56.70,65.60 L57.50,66.20 L58.60,66.40 L59.80,67.50 L59.00,69.00 L58.20,69.60 L57.70,70.50 L56.50,72.00 L55.00,72.80 L54.10,73.00 L52.00,74.20 L49.10,75.50 L47.50,76.40 L45.00,77.20 L43.40,77.30 L43.20,76.70 L42.90,75.20 L42.60,74.00 L42.50,73.10 L41.50,71.50 L40.50,70.20 L39.20,68.50 L38.90,67.50 L38.00,65.90 L37.20,64.80 L35.70,62.70 L35.00,61.80 L35.00,60.50 L34.90,60.50 L34.40,58.50 L35.00,57.20 L35.50,56.10 L35.90,54.50 L36.20,53.40 L35.50,53.40 L34.60,53.20 L32.80,53.90 L30.70,53.10 L29.50,53.70 L28.30,53.20 L27.30,53.00 L27.00,51.60 L26.60,50.70 L26.40,49.90 L27.50,49.50 L29.00,49.00 L29.10,48.80 L31.00,48.80 L33.00,48.10 L35.10,48.00 L36.30,48.70 L38.00,49.00 L39.70,49.00 L41.60,48.40 L41.50,47.50 L39.70,46.40 L37.80,45.30 L36.60,44.80 L38.00,43.90 L39.00,42.90 L37.50,43.00 L35.00,43.70 L35.30,44.70 L36.40,44.60 L35.00,45.00 L34.00,45.60 L33.40,45.40 L32.50,44.60 L33.60,44.00 L31.50,43.40 L30.70,43.50 L29.70,44.80 L28.70,45.70 L27.90,46.80 L27.50,47.50 L28.00,48.40 L29.00,48.80 L28.00,49.00 L26.60,49.30 L26.20,49.70 L25.50,49.10 L24.00,49.20 L22.90,49.40 L23.50,49.80 L22.60,50.50 L23.30,51.00 L24.00,51.80 L23.70,52.10 L23.00,52.70 L23.00,53.50 L22.40,53.60 L21.70,53.20 L21.30,52.30 L21.70,51.70 L21.00,51.20 L20.20,50.40 L19.50,49.50 L19.40,48.70 L19.10,47.90 L18.10,47.40 L17.00,46.70 L16.40,46.50 L15.20,45.70 L14.40,44.70 L13.80,45.20 L13.60,44.30 L12.30,44.60 L12.20,45.60 L13.50,46.40 L14.20,47.50 L15.30,48.00 L16.20,48.10 L16.00,48.50 L16.90,48.90 L17.90,49.40 L18.50,49.90 L18.30,50.20 L17.20,49.50 L16.60,50.10 L17.10,51.00 L16.60,51.10 L16.10,52.00 L15.60,52.00 L15.80,51.10 L15.60,50.00 L14.90,49.70 L14.20,49.20 L13.80,48.80 L12.30,48.30 L11.10,47.60 L10.30,46.50 L9.60,45.90 L8.90,45.60 L8.00,46.10 L7.30,46.30 L6.20,46.90 L5.30,46.70 L3.90,46.50 L3.00,47.30 L3.20,48.10 L2.20,48.60 L0.90,49.30 L-0.30,50.50 L0.20,51.30 L-0.50,51.70 L-1.00,52.40 L-2.50,53.20 L-4.40,53.30 L-5.40,53.90 M-5.70,39.90 L-4.10,39.60 L-2.40,39.40 L0.00,39.20 L1.40,38.90 L1.00,38.50 L1.70,37.40 L0.30,37.10 L0.10,36.40 L-0.60,35.50 L-1.40,35.00 L-2.00,34.20 L-2.80,34.00 L-2.60,33.50 L-2.10,32.90 L-1.80,32.40 L-3.80,32.30 L-3.00,31.40 L-5.00,31.40 L-5.60,32.10 L-5.80,33.00 L-5.50,33.50 L-5.60,34.70 L-4.80,34.40 L-5.00,35.30 L-3.30,35.10 L-3.40,35.70 L-3.00,36.60 L-4.50,36.70 L-4.70,37.20 L-4.30,37.90 L-5.10,38.30 L-4.00,38.40 L-3.00,38.60 L-4.50,39.00 L-5.70,39.90 M-6.00,36.70 L-6.30,37.80 L-8.50,38.40 L-10.20,38.20 L-9.90,36.60 L-10.00,35.80 L-8.30,34.80 L-7.20,34.70 L-5.90,35.40 L-6.00,36.70 M-22.50,25.90 L-24.00,24.50 L-22.00,23.60 L-18.00,23.80 L-14.50,24.00 L-13.50,25.00 L-15.00,25.70 L-18.00,26.60 L-21.00,26.20 L-22.50,25.90 M47.80,44.30 L49.50,43.40 L52.00,43.00 L53.50,43.50 L53.00,44.70 L51.30,45.50 L50.80,45.70 L51.20,46.40 L52.80,48.00 L53.00,49.00 L53.00,50.00 L53.90,51.50 L54.00,53.20 L51.00,53.30 L49.50,52.50 L49.00,51.50 L50.00,49.60 L49.00,48.50 L48.30,48.00 L47.50,47.00 L47.00,45.50 L47.80,44.30 M79.80,84.00 L80.60,84.10 L81.80,82.50 L80.30,80.20 L79.80,81.50 L79.80,84.00 M142.00,44.00 L143.50,43.50 L143.00,40.70 L144.50,41.00 L143.30,38.50 L143.00,35.70 L142.20,35.70 L141.70,38.30 L142.00,42.00 L141.90,43.90 L142.00,44.00 M120.10,67.00 L121.00,64.70 L121.90,65.00 L120.90,68.10 L120.10,67.00 M108.60,70.80 L110.00,69.90 L111.00,70.40 L109.50,71.80 L108.60,70.80 M109.20,87.80 L112.40,87.40 L115.00,85.50 L117.20,83.00 L119.60,84.60 L118.80,88.60 L118.80,91.00 L116.00,94.10 L110.80,92.50 L109.20,90.20 L109.20,87.80 M95.30,84.40 L97.50,84.80 L98.70,86.40 L100.50,88.00 L101.50,88.30 L103.50,90.00 L104.50,91.50 L106.00,93.00 L105.80,95.80 L104.50,95.90 L102.30,93.80 L101.00,92.00 L100.40,90.90 L99.00,89.00 L98.50,88.00 L97.20,86.50 L96.10,85.90 L95.30,84.40 M105.20,96.80 L106.80,96.10 L108.50,96.50 L111.00,96.40 L112.70,96.90 L114.40,97.80 L112.00,98.30 L110.00,98.10 L106.50,97.40 L105.20,96.80 M120.40,88.20 L125.60,88.20 L122.80,89.40 L121.00,90.00 L122.80,90.20 L122.00,93.70 L123.60,94.90 L120.40,95.70 L119.20,92.50 L120.40,88.20 M131.00,91.30 L132.50,90.50 L134.00,90.80 L135.00,93.30 L137.50,91.50 L141.00,92.60 L144.00,93.80 L145.80,95.50 L147.80,96.30 L147.20,97.50 L148.50,99.00 L150.00,100.30 L147.50,100.00 L146.00,98.20 L144.50,97.80 L143.30,98.60 L143.00,99.00 L141.00,99.10 L139.00,98.20 L138.00,98.30 L138.00,97.00 L137.50,95.30 L135.00,94.30 L133.00,94.00 L132.00,92.80 L133.50,92.30 L131.50,91.50 L131.00,91.30 M142.50,100.70 L143.50,102.50 L143.80,104.50 L145.30,105.00 L145.80,106.90 L146.30,108.50 L146.80,109.30 L148.50,110.30 L149.20,111.10 L150.00,112.20 L150.50,113.40 L152.00,114.50 L153.20,115.00 L153.40,117.50 L153.50,119.00 L153.00,121.00 L151.30,123.90 L150.20,126.00 L149.90,127.50 L148.00,127.80 L146.30,129.10 L144.90,128.30 L143.50,128.80 L141.00,128.10 L139.80,127.30 L139.50,126.00 L138.50,125.60 L138.20,124.50 L137.80,125.80 L136.80,125.20 L137.70,123.80 L137.00,123.20 L135.90,125.00 L135.20,124.50 L134.00,122.90 L131.00,121.50 L128.00,122.00 L125.00,122.50 L123.50,123.90 L121.90,123.90 L119.90,124.00 L117.90,125.00 L115.10,124.30 L115.70,122.00 L115.00,120.00 L114.60,118.80 L113.50,116.00 L113.80,113.50 L114.00,112.00 L116.50,110.60 L118.60,110.30 L121.00,109.50 L122.20,108.00 L123.50,107.00 L124.50,106.00 L125.00,105.00 L126.50,104.00 L127.80,104.50 L129.00,105.00 L129.60,104.80 L130.50,103.00 L130.80,102.40 L132.50,102.00 L132.70,101.50 L134.50,102.00 L136.50,102.00 L136.90,102.30 L136.00,103.00 L135.50,105.00 L137.00,106.00 L139.50,107.50 L140.80,107.30 L141.50,105.00 L141.60,102.50 L142.50,100.70 M144.70,130.70 L148.30,130.90 L148.00,133.20 L146.00,133.60 L145.20,132.20 L144.70,130.70 M49.30,102.00 L50.50,105.50 L49.50,107.50 L48.50,110.50 L47.20,115.00 L45.00,115.50 L43.70,113.50 L44.00,110.00 L44.40,106.20 L47.00,104.50 L48.50,103.30 L49.30,102.00 M-168.10,24.40 L-166.80,21.70 L-163.00,20.50 L-156.80,18.60 L-152.00,19.20 L-148.40,19.70 L-141.00,20.40 L-136.00,21.00 L-133.00,20.50 L-129.00,20.00 L-125.00,20.50 L-120.00,20.70 L-115.00,22.00 L-110.00,22.00 L-104.00,22.00 L-98.00,22.20 L-96.00,21.50 L-94.00,18.50 L-92.00,20.00 L-90.00,21.50 L-86.00,22.00 L-82.50,20.50 L-81.00,22.00 L-85.00,23.50 L-87.00,25.50 L-90.50,27.00 L-94.00,29.00 L-94.20,31.20 L-92.00,33.00 L-88.00,33.70 L-85.00,34.70 L-82.30,35.00 L-82.00,37.00 L-79.50,38.50 L-78.80,35.50 L-77.00,32.00 L-77.50,29.50 L-78.00,27.60 L-73.00,27.80 L-70.00,29.00 L-69.50,31.00 L-67.50,31.50 L-65.00,29.70 L-63.00,32.00 L-62.00,32.50 L-60.00,35.00 L-57.50,36.00 L-56.00,38.00 L-57.00,38.50 L-60.00,39.80 L-63.00,39.70 L-66.00,40.00 L-69.00,41.60 L-71.00,43.00 L-70.50,42.80 L-68.00,41.20 L-64.50,41.00 L-64.20,41.20 L-65.00,42.20 L-64.60,43.50 L-63.00,44.20 L-61.00,44.50 L-60.00,43.50 L-60.50,44.50 L-63.60,45.40 L-66.00,46.50 L-65.50,45.20 L-66.00,44.80 L-67.00,45.20 L-70.00,46.30 L-70.70,47.30 L-71.00,47.70 L-70.00,48.20 L-72.00,48.80 L-74.00,49.40 L-74.00,50.50 L-75.00,51.20 L-76.00,53.00 L-75.50,54.80 L-77.00,55.50 L-79.00,56.60 L-79.90,57.20 L-81.30,59.50 L-81.20,60.50 L-80.50,62.00 L-80.10,64.20 L-81.00,64.90 L-81.80,63.50 L-82.60,62.20 L-83.50,60.20 L-85.00,60.30 L-87.20,59.60 L-88.50,59.70 L-89.30,61.00 L-91.00,60.70 L-93.50,60.30 L-94.80,60.70 L-97.40,62.20 L-97.20,64.10 L-97.80,67.70 L-97.20,69.50 L-96.10,70.80 L-94.40,71.90 L-92.00,71.40 L-90.50,70.20 L-90.30,69.00 L-88.00,68.50 L-86.80,68.90 L-87.50,70.50 L-88.00,71.50 L-88.20,72.50 L-88.50,74.00 L-88.00,74.20 L-86.00,74.10 L-84.00,74.10 L-83.20,75.00 L-83.50,78.00 L-83.60,79.00 L-83.00,80.00 L-81.50,81.20 L-79.90,80.70 L-77.50,81.40 L-76.80,81.50 L-75.50,79.60 L-74.80,79.00 L-73.00,78.70 L-71.50,77.60 L-71.50,79.00 L-71.00,78.50 L-70.00,77.90 L-68.50,79.50 L-67.00,79.40 L-64.00,79.50 L-62.00,79.30 L-60.50,81.50 L-58.20,83.20 L-55.20,84.10 L-52.30,85.10 L-51.00,86.50 L-50.50,88.00 L-50.00,89.50 L-49.00,90.50 L-48.50,91.40 L-46.00,91.00 L-44.30,92.50 L-42.00,92.80 L-38.50,93.70 L-36.00,95.00 L-35.20,95.80 L-34.90,98.10 L-35.50,99.50 L-37.00,101.00 L-38.50,103.00 L-39.00,104.80 L-39.20,107.50 L-40.30,110.30 L-41.00,112.00 L-42.00,113.00 L-43.20,113.00 L-46.30,114.00 L-48.00,115.50 L-48.50,117.60 L-49.00,118.50 L-50.20,120.50 L-51.50,122.00 L-53.40,123.70 L-54.90,124.90 L-56.20,124.90 L-58.40,124.60 L-57.30,126.00 L-56.80,126.80 L-57.50,128.00 L-59.00,128.70 L-62.30,128.80 L-62.00,130.50 L-65.00,131.00 L-64.00,132.30 L-63.50,132.80 L-65.00,134.50 L-67.50,136.00 L-65.90,137.80 L-67.70,139.50 L-68.50,140.50 L-69.00,142.00 L-68.40,142.30 L-71.00,142.80 L-73.00,143.50 L-74.50,142.50 L-75.50,140.00 L-75.50,138.00 L-75.50,136.50 L-74.50,135.00 L-73.50,133.50 L-74.00,133.00 L-73.60,130.00 L-73.50,128.00 L-73.10,126.80 L-72.00,125.00 L-71.60,123.00 L-71.50,121.50 L-71.30,120.00 L-71.00,117.00 L-70.40,113.60 L-70.20,111.00 L-70.30,108.50 L-71.30,107.60 L-73.50,106.50 L-76.00,104.00 L-77.10,102.00 L-78.50,99.50 L-79.50,97.50 L-81.00,96.00 L-81.30,94.70 L-80.30,93.50 L-80.00,92.50 L-80.90,92.20 L-80.50,90.50 L-80.00,89.30 L-79.70,89.00 L-78.80,88.20 L-77.50,86.70 L-77.00,86.10 L-77.40,84.50 L-77.50,83.00 L-78.50,81.70 L-79.50,81.00 L-80.50,81.90 L-80.50,82.70 L-81.80,81.90 L-82.90,81.80 L-83.80,81.00 L-84.80,80.00 L-85.80,80.00 L-85.80,78.80 L-87.50,77.00 L-89.00,76.60 L-90.80,76.10 L-92.30,75.40 L-94.00,74.00 L-95.20,73.80 L-96.50,74.30 L-94.30,73.70 L-97.30,73.10 L-101.40,71.60 L-104.40,69.50 L-104.70,67.70 L-107.40,64.20 L-109.20,62.10 L-111.60,60.00 L-114.00,58.20 L-113.40,59.70 L-112.20,62.10 L-109.80,65.10 L-108.90,66.90 L-111.60,64.20 L-113.40,62.10 L-115.20,59.40 L-116.40,57.60 L-117.30,56.10 L-119.70,55.60 L-121.20,54.40 L-123.70,50.20 L-124.00,47.80 L-124.10,44.80 L-123.70,42.50 L-121.80,42.20 L-124.70,40.70 L-128.00,39.20 L-127.10,38.00 L-128.30,36.80 L-130.10,34.70 L-131.50,34.50 L-133.00,33.00 L-134.40,31.70 L-136.50,31.50 L-138.00,31.00 L-139.70,30.50 L-142.00,30.00 L-145.80,29.50 L-148.00,29.50 L-149.50,30.50 L-151.50,30.70 L-151.50,29.50 L-150.00,28.80 L-153.00,30.50 L-154.00,31.50 L-156.00,32.70 L-158.00,34.00 L-161.00,34.50 L-163.00,35.20 L-164.50,35.50 L-162.00,34.20 L-159.00,32.50 L-157.00,31.30 L-159.50,31.20 L-162.00,30.00 L-164.50,29.50 L-165.50,28.50 L-165.00,27.50 L-164.00,26.70 L-161.00,26.50 L-161.00,25.60 L-163.00,25.50 L-165.40,25.50 L-166.50,24.80 L-168.10,24.40 M-66.80,8.30 L-62.00,7.30 L-54.00,7.50 L-46.00,7.10 L-38.10,6.20 L-30.10,6.30 L-20.10,7.10 L-10.90,8.50 L-18.90,9.90 L-17.30,13.10 L-18.90,15.90 L-20.90,19.00 L-25.30,20.20 L-32.10,22.20 L-39.30,24.60 L-41.30,27.40 L-42.90,30.00 L-47.70,29.20 L-51.20,25.40 L-53.20,22.20 L-51.60,19.80 L-54.80,17.90 L-58.00,14.70 L-64.00,13.50 L-70.80,12.30 L-72.40,11.50 L-66.80,8.30 M-59.00,42.50 L-57.50,39.50 L-55.60,38.40 L-55.50,40.50 L-53.00,41.50 L-52.70,42.50 L-55.00,43.20 L-56.00,42.50 L-59.00,42.40 L-59.00,42.50 M-61.20,141.50 L-58.00,141.20 L-58.50,142.20 L-61.00,142.00 L-61.20,141.50 M-68.50,142.60 L-66.50,144.50 L-68.00,145.30 L-71.00,144.50 L-68.50,142.60 M69.00,139.00 L70.50,139.00 L70.00,139.70 L69.00,139.00 M-57.20,153.30 L-61.60,156.30 L-60.20,161.40 L-60.90,164.40 L-76.40,166.60 L-77.20,169.20 L-57.90,172.90 L-42.40,171.00 L-28.30,169.90 L-35.00,168.10 L-15.80,163.60 L-1.00,161.40 L7.40,160.20 L11.10,160.90 L22.20,160.50 L33.30,158.70 L39.20,159.80 L44.40,158.00 L51.80,156.10 L57.00,156.10 L62.90,158.00 L68.80,158.30 L68.10,162.00 L71.00,162.00 L74.00,160.20 L79.90,158.00 L88.00,156.50 L96.20,157.20 L102.80,155.70 L108.00,157.20 L113.90,156.10 L119.80,157.20 L135.40,156.10 L136.90,156.90 L146.50,157.20 L155.40,159.10 L162.80,160.20 L171.60,162.00 L166.50,163.50 L163.50,166.40 L167.20,168.60 L161.30,170.90 L167.20,173.10 L180.00,174.30 L190.40,173.60 L202.20,174.70 L217.70,174.70 L211.80,172.90 L207.40,171.00 L214.00,169.90 L204.40,168.40 L202.20,167.00 L214.80,165.10 L233.30,163.60 L246.60,163.60 L257.70,161.80 L260.60,165.10 L264.30,162.90 L283.60,163.30 L291.00,162.20 L292.40,160.70 L289.50,159.20 L293.90,155.50 L298.40,154.10 L303.50,153.30 M12.40,52.20 L15.10,53.30 L15.60,51.70 L13.30,51.80 L12.40,52.20 M8.40,49.10 L9.80,49.00 L9.60,51.00 L8.40,51.00 L8.40,49.10 M8.60,47.10 L9.50,47.10 L9.40,48.50 L8.80,48.50 L8.60,47.10 M23.60,54.50 L26.30,54.80 L24.50,55.00 L23.60,54.50 M32.30,55.00 L34.60,54.40 L33.50,55.40 L32.30,55.00 M10.00,34.30 L12.60,34.00 L12.20,35.00 L10.50,34.90 L10.00,34.30 M18.20,32.10 L19.00,32.20 L18.70,33.00 L18.20,32.10 M130.90,56.00 L131.30,55.60 L133.00,54.40 L135.80,54.40 L136.80,52.60 L138.50,52.10 L140.00,50.10 L140.90,48.50 L141.50,49.50 L142.00,50.50 L141.00,53.00 L140.80,54.30 L139.80,55.00 L138.90,55.40 L137.00,55.40 L136.00,56.50 L135.20,55.70 L133.00,55.70 L130.90,56.00 M140.00,48.50 L140.30,46.70 L141.70,44.60 L143.50,45.70 L145.50,46.70 L143.30,48.10 L141.00,48.20 L140.00,48.50 M130.00,56.50 L131.00,56.10 L131.90,57.00 L131.00,59.00 L130.20,58.70 L129.80,57.30 L130.00,56.50 M132.50,57.00 L133.50,55.70 L134.70,55.80 L134.20,56.80 L133.00,57.30 L132.50,57.00 M120.40,71.90 L123.00,71.50 L122.60,74.30 L121.60,75.10 L123.20,77.10 L125.20,78.70 L124.40,79.10 L122.00,76.70 L120.40,75.10 L120.00,73.50 L120.40,71.90 M122.80,78.70 L126.00,77.90 L126.80,81.40 L124.80,82.20 L123.20,80.60 L122.80,78.70 M122.00,82.20 L126.00,80.60 L127.20,83.00 L125.60,84.60 L122.40,83.40 L122.00,82.20 M117.20,81.60 L120.00,78.70 L119.50,79.00 L117.20,81.60 M124.00,100.00 L127.20,98.50 L125.50,99.60 L124.00,100.00 M120.00,98.50 L123.00,98.30 L122.00,98.80 L120.00,98.80 L120.00,98.50 M116.00,98.40 L117.00,98.50 L119.00,98.60 L118.00,99.00 L116.00,98.80 L116.00,98.40 M119.00,99.50 L120.80,100.20 L119.50,99.90 L119.00,99.50 M126.00,93.20 L127.00,93.30 L126.50,93.80 L126.00,93.20 M128.00,93.00 L130.80,93.30 L129.50,93.60 L128.00,93.00 M127.50,88.20 L128.00,87.80 L128.40,89.00 L127.90,89.50 L127.50,88.20 M150.00,95.50 L152.00,94.00 L151.50,95.50 L149.00,96.20 L150.00,95.50 M150.80,92.60 L152.50,93.80 L151.50,93.00 L150.80,92.60 M154.50,95.20 L156.00,96.80 L155.50,97.00 L154.50,95.20 M157.50,97.50 L160.00,98.50 L159.50,98.80 L157.50,97.50 M160.50,99.30 L162.00,100.50 L161.50,100.60 L160.50,99.30 M166.50,105.00 L167.30,105.50 L167.00,105.90 L166.50,105.00 M177.00,107.50 L178.50,107.50 L178.00,108.20 L177.00,107.50 M164.00,110.00 L166.50,112.00 L166.00,112.30 L164.00,110.00 M172.70,124.40 L174.30,125.50 L174.80,126.90 L176.00,127.60 L178.50,127.70 L177.00,129.30 L176.80,130.30 L174.80,131.30 L174.60,129.80 L173.80,129.30 L174.50,127.50 L172.70,124.40 M172.70,130.50 L174.30,131.70 L173.00,133.60 L171.00,135.80 L168.50,136.60 L166.50,135.80 L168.00,134.00 L171.00,132.00 L172.70,130.50 M-124.50,15.80 L-117.00,15.90 L-115.00,16.80 L-119.10,18.50 L-122.80,19.10 L-125.40,18.20 L-124.50,15.80 M-119.30,18.50 L-114.20,17.00 L-104.10,16.50 L-101.20,19.30 L-99.80,21.00 L-101.20,22.20 L-109.80,22.20 L-114.20,21.30 L-118.50,20.20 L-119.30,18.50 M-121.90,13.60 L-115.60,12.20 L-105.50,13.90 L-104.70,15.00 L-112.70,15.90 L-121.40,14.50 L-121.90,13.60 M-113.00,11.20 L-110.50,10.60 L-108.40,11.00 L-111.00,11.60 L-113.00,11.20 M-105.00,10.70 L-102.00,10.40 L-98.30,11.90 L-103.00,11.60 L-105.00,10.70 M-101.80,13.30 L-96.90,13.00 L-92.60,13.60 L-92.90,15.30 L-101.20,15.00 L-101.80,13.30 M-89.10,13.30 L-79.60,13.90 L-78.80,15.00 L-86.80,15.60 L-92.00,15.00 L-89.10,13.30 M-96.00,9.90 L-90.60,7.90 L-81.60,7.00 L-72.40,6.60 L-60.90,7.00 L-66.70,9.30 L-76.70,11.60 L-78.80,13.00 L-86.80,13.30 L-92.60,12.20 L-95.50,10.70 L-96.00,9.90 M-95.50,9.60 L-86.80,8.70 L-80.50,9.60 L-83.90,11.90 L-92.60,11.90 L-95.50,9.60 M-101.20,16.50 L-95.50,16.20 L-92.60,18.80 L-94.00,22.20 L-99.80,22.20 L-101.20,16.50 M-89.10,16.50 L-83.90,16.20 L-75.30,17.30 L-66.70,20.20 L-60.90,22.80 L-62.90,25.10 L-68.10,23.60 L-72.40,25.60 L-76.70,25.10 L-81.10,22.20 L-85.40,19.90 L-88.80,18.80 L-89.10,16.50 M-86.00,24.50 L-82.00,25.50 L-81.00,27.00 L-85.00,26.80 L-86.00,24.50 M10.40,10.30 L17.00,9.70 L27.40,9.90 L22.20,12.50 L15.50,13.20 L11.00,11.50 L10.40,10.30 M45.10,9.40 L51.80,9.20 L60.00,9.50 L48.10,9.90 L45.10,9.40 M52.00,19.00 L55.00,16.50 L58.00,14.50 L64.00,13.50 L69.00,13.00 L66.00,13.80 L60.00,15.00 L57.00,17.00 L55.00,19.00 L52.00,19.00 M91.40,9.60 L96.20,8.80 L105.00,11.80 L99.90,11.80 L91.40,9.60 M137.00,13.60 L143.00,14.20 L145.70,15.10 L139.00,15.20 L137.00,13.60 M147.00,14.50 L151.00,14.80 L149.00,15.20 L147.00,14.50 M179.00,18.50 L182.50,18.70 L181.00,19.10 L179.00,18.50 M-85.00,68.10 L-82.00,66.90 L-80.00,67.00 L-77.00,68.20 L-74.10,69.80 L-77.70,70.10 L-78.50,68.50 L-81.50,68.00 L-84.00,68.10 L-85.00,68.10 M-74.50,71.60 L-72.80,70.10 L-70.00,70.30 L-68.30,71.40 L-71.00,72.40 L-74.40,71.90 L-74.50,71.60 M-78.30,71.70 L-76.20,72.00 L-77.50,72.20 L-78.30,71.70 M-67.20,71.50 L-65.60,71.80 L-67.20,72.00 L-67.20,71.50 M-78.00,63.20 L-77.00,63.50 L-77.80,65.00 L-78.00,63.20 M-156.00,70.20 L-155.00,70.50 L-155.80,71.00 L-156.00,70.20 M-158.30,68.40 L-157.70,68.70 L-158.20,68.70 L-158.30,68.40 M-159.70,67.80 L-159.30,68.00 L-159.70,68.10 L-159.70,67.80"/></g>
</defs>
<text x="1236.0" y="87.5" font-size="78.38" font-weight="normal" text-anchor="start" textLength="983.4" lengthAdjust="spacingAndGlyphs" style="white-space:pre" >Q - 850hpa - ANN - LatLon</text>
<g transform="translate(150.0,325.0) scale(4.252778,4.271111)"><g clip-path="url(#mclip)">
<use href="#field1"/><use href="#white1"/>
<g fill="none" stroke="#000" stroke-width="1.0346" stroke-linejoin="round" stroke-linecap="round"><use href="#coast"/><use href="#coast" transform="translate(360,0)"/><use href="#coast" transform="translate(-360,0)"/></g>
</g></g>
<rect x="150.0" y="325.0" width="1531.0" height="768.8" fill="none" stroke="#000" stroke-width="5.8" stroke-linejoin="miter"/>
<line x1="150.00" y1="1093.80" x2="150.00" y2="1114.80" stroke="#000" stroke-width="5.8"/>
<text x="150.0" y="1160.3" font-size="43.54" font-weight="normal" text-anchor="middle" textLength="26.5" lengthAdjust="spacingAndGlyphs" style="white-space:pre" >0</text>
<line x1="405.17" y1="1093.80" x2="405.17" y2="1114.80" stroke="#000" stroke-width="5.8"/>
<text x="405.2" y="1160.3" font-size="43.54" font-weight="normal" text-anchor="middle" textLength="79.3" lengthAdjust="spacingAndGlyphs" style="white-space:pre" >60E</text>
<line x1="660.33" y1="1093.80" x2="660.33" y2="1114.80" stroke="#000" stroke-width="5.8"/>
<text x="660.3" y="1160.3" font-size="43.54" font-weight="normal" text-anchor="middle" textLength="105.9" lengthAdjust="spacingAndGlyphs" style="white-space:pre" >120E</text>
<line x1="915.50" y1="1093.80" x2="915.50" y2="1114.80" stroke="#000" stroke-width="5.8"/>
<text x="915.5" y="1160.3" font-size="43.54" font-weight="normal" text-anchor="middle" textLength="79.5" lengthAdjust="spacingAndGlyphs" style="white-space:pre" >180</text>
<line x1="1170.67" y1="1093.80" x2="1170.67" y2="1114.80" stroke="#000" stroke-width="5.8"/>
<text x="1170.7" y="1160.3" font-size="43.54" font-weight="normal" text-anchor="middle" textLength="120.7" lengthAdjust="spacingAndGlyphs" style="white-space:pre" >120W</text>
<line x1="1425.83" y1="1093.80" x2="1425.83" y2="1114.80" stroke="#000" stroke-width="5.8"/>
<text x="1425.8" y="1160.3" font-size="43.54" font-weight="normal" text-anchor="middle" textLength="94.2" lengthAdjust="spacingAndGlyphs" style="white-space:pre" >60W</text>
<line x1="129.00" y1="325.00" x2="150.00" y2="325.00" stroke="#000" stroke-width="5.8"/>
<text x="114.7" y="341.9" font-size="43.54" font-weight="normal" text-anchor="end" textLength="84.2" lengthAdjust="spacingAndGlyphs" style="white-space:pre" >90N</text>
<line x1="129.00" y1="453.13" x2="150.00" y2="453.13" stroke="#000" stroke-width="5.8"/>
<text x="114.7" y="470.0" font-size="43.54" font-weight="normal" text-anchor="end" textLength="84.2" lengthAdjust="spacingAndGlyphs" style="white-space:pre" >60N</text>
<line x1="129.00" y1="581.27" x2="150.00" y2="581.27" stroke="#000" stroke-width="5.8"/>
<text x="114.7" y="598.2" font-size="43.54" font-weight="normal" text-anchor="end" textLength="84.2" lengthAdjust="spacingAndGlyphs" style="white-space:pre" >30N</text>
<line x1="129.00" y1="709.40" x2="150.00" y2="709.40" stroke="#000" stroke-width="5.8"/>
<text x="114.7" y="726.3" font-size="43.54" font-weight="normal" text-anchor="end" textLength="26.5" lengthAdjust="spacingAndGlyphs" style="white-space:pre" >0</text>
<line x1="129.00" y1="837.53" x2="150.00" y2="837.53" stroke="#000" stroke-width="5.8"/>
<text x="114.7" y="854.4" font-size="43.54" font-weight="normal" text-anchor="end" textLength="79.5" lengthAdjust="spacingAndGlyphs" style="white-space:pre" >30S</text>
<line x1="129.00" y1="965.67" x2="150.00" y2="965.67" stroke="#000" stroke-width="5.8"/>
<text x="114.7" y="982.6" font-size="43.54" font-weight="normal" text-anchor="end" textLength="79.5" lengthAdjust="spacingAndGlyphs" style="white-space:pre" >60S</text>
<line x1="129.00" y1="1093.80" x2="150.00" y2="1093.80" stroke="#000" stroke-width="5.8"/>
<text x="114.7" y="1110.7" font-size="43.54" font-weight="normal" text-anchor="end" textLength="79.5" lengthAdjust="spacingAndGlyphs" style="white-space:pre" >90S</text>
<g transform="translate(1873.0,325.0) scale(4.255556,4.271111)"><g clip-path="url(#mclip)">
<use href="#field1"/><use href="#white1"/>
<g fill="none" stroke="#000" stroke-width="1.0339" stroke-linejoin="round" stroke-linecap="round"><use href="#coast"/><use href="#coast" transform="translate(360,0)"/><use href="#coast" transform="translate(-360,0)"/></g>
</g></g>
<rect x="1873.0" y="325.0" width="1532.0" height="768.8" fill="none" stroke="#000" stroke-width="5.8" stroke-linejoin="miter"/>
<line x1="1873.00" y1="1093.80" x2="1873.00" y2="1114.80" stroke="#000" stroke-width="5.8"/>
<text x="1873.0" y="1160.3" font-size="43.54" font-weight="normal" text-anchor="middle" textLength="26.5" lengthAdjust="spacingAndGlyphs" style="white-space:pre" >0</text>
<line x1="2128.33" y1="1093.80" x2="2128.33" y2="1114.80" stroke="#000" stroke-width="5.8"/>
<text x="2128.3" y="1160.3" font-size="43.54" font-weight="normal" text-anchor="middle" textLength="79.3" lengthAdjust="spacingAndGlyphs" style="white-space:pre" >60E</text>
<line x1="2383.67" y1="1093.80" x2="2383.67" y2="1114.80" stroke="#000" stroke-width="5.8"/>
<text x="2383.7" y="1160.3" font-size="43.54" font-weight="normal" text-anchor="middle" textLength="105.9" lengthAdjust="spacingAndGlyphs" style="white-space:pre" >120E</text>
<line x1="2639.00" y1="1093.80" x2="2639.00" y2="1114.80" stroke="#000" stroke-width="5.8"/>
<text x="2639.0" y="1160.3" font-size="43.54" font-weight="normal" text-anchor="middle" textLength="79.5" lengthAdjust="spacingAndGlyphs" style="white-space:pre" >180</text>
<line x1="2894.33" y1="1093.80" x2="2894.33" y2="1114.80" stroke="#000" stroke-width="5.8"/>
<text x="2894.3" y="1160.3" font-size="43.54" font-weight="normal" text-anchor="middle" textLength="120.7" lengthAdjust="spacingAndGlyphs" style="white-space:pre" >120W</text>
<line x1="3149.67" y1="1093.80" x2="3149.67" y2="1114.80" stroke="#000" stroke-width="5.8"/>
<text x="3149.7" y="1160.3" font-size="43.54" font-weight="normal" text-anchor="middle" textLength="94.2" lengthAdjust="spacingAndGlyphs" style="white-space:pre" >60W</text>
<line x1="1852.00" y1="325.00" x2="1873.00" y2="325.00" stroke="#000" stroke-width="5.8"/>
<text x="1837.7" y="341.9" font-size="43.54" font-weight="normal" text-anchor="end" textLength="84.2" lengthAdjust="spacingAndGlyphs" style="white-space:pre" >90N</text>
<line x1="1852.00" y1="453.13" x2="1873.00" y2="453.13" stroke="#000" stroke-width="5.8"/>
<text x="1837.7" y="470.0" font-size="43.54" font-weight="normal" text-anchor="end" textLength="84.2" lengthAdjust="spacingAndGlyphs" style="white-space:pre" >60N</text>
<line x1="1852.00" y1="581.27" x2="1873.00" y2="581.27" stroke="#000" stroke-width="5.8"/>
<text x="1837.7" y="598.2" font-size="43.54" font-weight="normal" text-anchor="end" textLength="84.2" lengthAdjust="spacingAndGlyphs" style="white-space:pre" >30N</text>
<line x1="1852.00" y1="709.40" x2="1873.00" y2="709.40" stroke="#000" stroke-width="5.8"/>
<text x="1837.7" y="726.3" font-size="43.54" font-weight="normal" text-anchor="end" textLength="26.5" lengthAdjust="spacingAndGlyphs" style="white-space:pre" >0</text>
<line x1="1852.00" y1="837.53" x2="1873.00" y2="837.53" stroke="#000" stroke-width="5.8"/>
<text x="1837.7" y="854.4" font-size="43.54" font-weight="normal" text-anchor="end" textLength="79.5" lengthAdjust="spacingAndGlyphs" style="white-space:pre" >30S</text>
<line x1="1852.00" y1="965.67" x2="1873.00" y2="965.67" stroke="#000" stroke-width="5.8"/>
<text x="1837.7" y="982.6" font-size="43.54" font-weight="normal" text-anchor="end" textLength="79.5" lengthAdjust="spacingAndGlyphs" style="white-space:pre" >60S</text>
<line x1="1852.00" y1="1093.80" x2="1873.00" y2="1093.80" stroke="#000" stroke-width="5.8"/>
<text x="1837.7" y="1110.7" font-size="43.54" font-weight="normal" text-anchor="end" textLength="79.5" lengthAdjust="spacingAndGlyphs" style="white-space:pre" >90S</text>
<g transform="translate(1010.0,1480.0) scale(4.261111,4.277778)"><g clip-path="url(#mclip)">
<use href="#field3"/><use href="#white3"/>
<g fill="none" stroke="#000" stroke-width="1.0326" stroke-linejoin="round" stroke-linecap="round"><use href="#coast"/><use href="#coast" transform="translate(360,0)"/><use href="#coast" transform="translate(-360,0)"/></g>
</g></g>
<rect x="1010.0" y="1480.0" width="1534.0" height="770.0" fill="none" stroke="#000" stroke-width="5.8" stroke-linejoin="miter"/>
<line x1="1010.00" y1="2250.00" x2="1010.00" y2="2271.00" stroke="#000" stroke-width="5.8"/>
<text x="1010.0" y="2316.5" font-size="43.54" font-weight="normal" text-anchor="middle" textLength="26.5" lengthAdjust="spacingAndGlyphs" style="white-space:pre" >0</text>
<line x1="1265.67" y1="2250.00" x2="1265.67" y2="2271.00" stroke="#000" stroke-width="5.8"/>
<text x="1265.7" y="2316.5" font-size="43.54" font-weight="normal" text-anchor="middle" textLength="79.3" lengthAdjust="spacingAndGlyphs" style="white-space:pre" >60E</text>
<line x1="1521.33" y1="2250.00" x2="1521.33" y2="2271.00" stroke="#000" stroke-width="5.8"/>
<text x="1521.3" y="2316.5" font-size="43.54" font-weight="normal" text-anchor="middle" textLength="105.9" lengthAdjust="spacingAndGlyphs" style="white-space:pre" >120E</text>
<line x1="1777.00" y1="2250.00" x2="1777.00" y2="2271.00" stroke="#000" stroke-width="5.8"/>
<text x="1777.0" y="2316.5" font-size="43.54" font-weight="normal" text-anchor="middle" textLength="79.5" lengthAdjust="spacingAndGlyphs" style="white-space:pre" >180</text>
<line x1="2032.67" y1="2250.00" x2="2032.67" y2="2271.00" stroke="#000" stroke-width="5.8"/>
<text x="2032.7" y="2316.5" font-size="43.54" font-weight="normal" text-anchor="middle" textLength="120.7" lengthAdjust="spacingAndGlyphs" style="white-space:pre" >120W</text>
<line x1="2288.33" y1="2250.00" x2="2288.33" y2="2271.00" stroke="#000" stroke-width="5.8"/>
<text x="2288.3" y="2316.5" font-size="43.54" font-weight="normal" text-anchor="middle" textLength="94.2" lengthAdjust="spacingAndGlyphs" style="white-space:pre" >60W</text>
<line x1="989.00" y1="1480.00" x2="1010.00" y2="1480.00" stroke="#000" stroke-width="5.8"/>
<text x="974.7" y="1496.9" font-size="43.54" font-weight="normal" text-anchor="end" textLength="84.2" lengthAdjust="spacingAndGlyphs" style="white-space:pre" >90N</text>
<line x1="989.00" y1="1608.33" x2="1010.00" y2="1608.33" stroke="#000" stroke-width="5.8"/>
<text x="974.7" y="1625.2" font-size="43.54" font-weight="normal" text-anchor="end" textLength="84.2" lengthAdjust="spacingAndGlyphs" style="white-space:pre" >60N</text>
<line x1="989.00" y1="1736.67" x2="1010.00" y2="1736.67" stroke="#000" stroke-width="5.8"/>
<text x="974.7" y="1753.6" font-size="43.54" font-weight="normal" text-anchor="end" textLength="84.2" lengthAdjust="spacingAndGlyphs" style="white-space:pre" >30N</text>
<line x1="989.00" y1="1865.00" x2="1010.00" y2="1865.00" stroke="#000" stroke-width="5.8"/>
<text x="974.7" y="1881.9" font-size="43.54" font-weight="normal" text-anchor="end" textLength="26.5" lengthAdjust="spacingAndGlyphs" style="white-space:pre" >0</text>
<line x1="989.00" y1="1993.33" x2="1010.00" y2="1993.33" stroke="#000" stroke-width="5.8"/>
<text x="974.7" y="2010.2" font-size="43.54" font-weight="normal" text-anchor="end" textLength="79.5" lengthAdjust="spacingAndGlyphs" style="white-space:pre" >30S</text>
<line x1="989.00" y1="2121.67" x2="1010.00" y2="2121.67" stroke="#000" stroke-width="5.8"/>
<text x="974.7" y="2138.6" font-size="43.54" font-weight="normal" text-anchor="end" textLength="79.5" lengthAdjust="spacingAndGlyphs" style="white-space:pre" >60S</text>
<line x1="989.00" y1="2250.00" x2="1010.00" y2="2250.00" stroke="#000" stroke-width="5.8"/>
<text x="974.7" y="2266.9" font-size="43.54" font-weight="normal" text-anchor="end" textLength="79.5" lengthAdjust="spacingAndGlyphs" style="white-space:pre" >90S</text>
<text x="151.0" y="263.0" font-size="34.83" font-weight="bold" text-anchor="start" textLength="81.1" lengthAdjust="spacingAndGlyphs" style="white-space:pre" >Test</text>
<text x="238.1" y="263.0" font-size="34.83" font-weight="normal" text-anchor="start" textLength="11.2" lengthAdjust="spacingAndGlyphs" style="white-space:pre" >:</text>
<text x="255.0" y="263.0" font-size="34.83" font-weight="normal" text-anchor="start" textLength="63.6" lengthAdjust="spacingAndGlyphs" style="white-space:pre" >098</text>
<text x="151.0" y="300.8" font-size="34.83" font-weight="normal" text-anchor="start" textLength="210.4" lengthAdjust="spacingAndGlyphs" style="white-space:pre" >years: 10-19</text>
<text x="1679.0" y="224.0" font-size="34.83" font-weight="normal" text-anchor="end" textLength="197.5" lengthAdjust="spacingAndGlyphs" style="white-space:pre" >Mean:  0.01</text>
<text x="1679.0" y="262.4" font-size="34.83" font-weight="normal" text-anchor="end" textLength="175.6" lengthAdjust="spacingAndGlyphs" style="white-space:pre" >Max:  0.01</text>
<text x="1679.0" y="300.8" font-size="34.83" font-weight="normal" text-anchor="end" textLength="165.8" lengthAdjust="spacingAndGlyphs" style="white-space:pre" >Min:  0.00</text>
<text x="1875.0" y="263.0" font-size="34.83" font-weight="bold" text-anchor="start" textLength="159.5" lengthAdjust="spacingAndGlyphs" style="white-space:pre" >Baseline</text>
<text x="2039.7" y="263.0" font-size="34.83" font-weight="normal" text-anchor="start" textLength="11.2" lengthAdjust="spacingAndGlyphs" style="white-space:pre" >:</text>
<text x="2055.0" y="263.0" font-size="34.83" font-weight="normal" text-anchor="start" textLength="677.3" lengthAdjust="spacingAndGlyphs" style="white-space:pre" >b.e23_alpha17f.BLT1850.ne30_t232.093</text>
<text x="1875.0" y="300.8" font-size="34.83" font-weight="normal" text-anchor="start" textLength="210.4" lengthAdjust="spacingAndGlyphs" style="white-space:pre" >years: 10-19</text>
<text x="3403.0" y="224.0" font-size="34.83" font-weight="normal" text-anchor="end" textLength="197.5" lengthAdjust="spacingAndGlyphs" style="white-space:pre" >Mean:  0.01</text>
<text x="3403.0" y="262.4" font-size="34.83" font-weight="normal" text-anchor="end" textLength="175.6" lengthAdjust="spacingAndGlyphs" style="white-space:pre" >Max:  0.01</text>
<text x="3403.0" y="300.8" font-size="34.83" font-weight="normal" text-anchor="end" textLength="165.8" lengthAdjust="spacingAndGlyphs" style="white-space:pre" >Min:  0.00</text>
<text x="1011.0" y="1455.3" font-size="34.83" font-weight="bold" text-anchor="start" textLength="81.1" lengthAdjust="spacingAndGlyphs" style="white-space:pre" >Test</text>
<rect x="1101" y="1442.6" width="21" height="3.2" fill="#000"/>
<text x="1134.5" y="1455.3" font-size="34.83" font-weight="bold" text-anchor="start" textLength="159.5" lengthAdjust="spacingAndGlyphs" style="white-space:pre" >Baseline</text>
<text x="1671.0" y="1455.3" font-size="34.83" font-weight="normal" text-anchor="start" textLength="211.4" lengthAdjust="spacingAndGlyphs" style="white-space:pre" >RMSE: 0.000</text>
<text x="2542.0" y="1378.7" font-size="34.83" font-weight="normal" text-anchor="end" textLength="197.5" lengthAdjust="spacingAndGlyphs" style="white-space:pre" >Mean:  0.00</text>
<text x="2542.0" y="1417.1" font-size="34.83" font-weight="normal" text-anchor="end" textLength="175.6" lengthAdjust="spacingAndGlyphs" style="white-space:pre" >Max:  0.00</text>
<text x="2542.0" y="1455.5" font-size="34.83" font-weight="normal" text-anchor="end" textLength="167.2" lengthAdjust="spacingAndGlyphs" style="white-space:pre" >Min: -0.00</text>
<g transform="translate(1730.5,714) rotate(-90)">
<text x="0.0" y="0.0" font-size="43.54" font-weight="normal" text-anchor="middle" textLength="115.2" lengthAdjust="spacingAndGlyphs" style="white-space:pre" >kg/kg</text>
</g>
<g transform="translate(867.5,1869) rotate(-90)">
<text x="0.0" y="0.0" font-size="43.54" font-weight="normal" text-anchor="middle" textLength="115.2" lengthAdjust="spacingAndGlyphs" style="white-space:pre" >kg/kg</text>
</g>
<rect x="3481.50" y="1023.86" width="76.90" height="70.44" fill="#485fd1"/>
<rect x="3481.50" y="954.03" width="76.90" height="70.44" fill="#6485ec"/>
<rect x="3481.50" y="884.19" width="76.90" height="70.44" fill="#85a8fc"/>
<rect x="3481.50" y="814.35" width="76.90" height="70.44" fill="#a5c3fe"/>
<rect x="3481.50" y="744.52" width="76.90" height="70.44" fill="#c3d5f4"/>
<rect x="3481.50" y="674.68" width="76.90" height="70.44" fill="#dddcdc"/>
<rect x="3481.50" y="604.85" width="76.90" height="70.44" fill="#f1cdba"/>
<rect x="3481.50" y="535.01" width="76.90" height="70.44" fill="#f7b396"/>
<rect x="3481.50" y="465.17" width="76.90" height="70.44" fill="#f29072"/>
<rect x="3481.50" y="395.34" width="76.90" height="70.44" fill="#e0654f"/>
<rect x="3481.50" y="325.50" width="76.90" height="70.44" fill="#c43032"/>
<rect x="3481.5" y="325.5" width="76.9" height="768.2" fill="none" stroke="#000" stroke-width="3.0"/>
<line x1="3558.40" y1="1093.70" x2="3573.40" y2="1093.70" stroke="#000" stroke-width="3.0"/>
<text x="3588.9" y="1109.7" font-size="43.54" font-weight="normal" text-anchor="start" textLength="172.3" lengthAdjust="spacingAndGlyphs" style="white-space:pre" >0.00037</text>
<line x1="3558.40" y1="954.03" x2="3573.40" y2="954.03" stroke="#000" stroke-width="3.0"/>
<text x="3588.9" y="970.0" font-size="43.54" font-weight="normal" text-anchor="start" textLength="172.3" lengthAdjust="spacingAndGlyphs" style="white-space:pre" >0.00289</text>
<line x1="3558.40" y1="814.35" x2="3573.40" y2="814.35" stroke="#000" stroke-width="3.0"/>
<text x="3588.9" y="830.4" font-size="43.54" font-weight="normal" text-anchor="start" textLength="172.3" lengthAdjust="spacingAndGlyphs" style="white-space:pre" >0.00542</text>
<line x1="3558.40" y1="674.68" x2="3573.40" y2="674.68" stroke="#000" stroke-width="3.0"/>
<text x="3588.9" y="690.7" font-size="43.54" font-weight="normal" text-anchor="start" textLength="172.3" lengthAdjust="spacingAndGlyphs" style="white-space:pre" >0.00794</text>
<line x1="3558.40" y1="535.01" x2="3573.40" y2="535.01" stroke="#000" stroke-width="3.0"/>
<text x="3588.9" y="551.0" font-size="43.54" font-weight="normal" text-anchor="start" textLength="172.3" lengthAdjust="spacingAndGlyphs" style="white-space:pre" >0.01047</text>
<line x1="3558.40" y1="395.34" x2="3573.40" y2="395.34" stroke="#000" stroke-width="3.0"/>
<text x="3588.9" y="411.3" font-size="43.54" font-weight="normal" text-anchor="start" textLength="172.3" lengthAdjust="spacingAndGlyphs" style="white-space:pre" >0.01299</text>
<rect x="2621.50" y="2180.36" width="76.80" height="70.64" fill="#485fd1"/>
<rect x="2621.50" y="2110.33" width="76.80" height="70.64" fill="#6485ec"/>
<rect x="2621.50" y="2040.29" width="76.80" height="70.64" fill="#85a8fc"/>
<rect x="2621.50" y="1970.25" width="76.80" height="70.64" fill="#a5c3fe"/>
<rect x="2621.50" y="1900.22" width="76.80" height="70.64" fill="#c3d5f4"/>
<rect x="2621.50" y="1830.18" width="76.80" height="70.64" fill="#dddcdc"/>
<rect x="2621.50" y="1760.15" width="76.80" height="70.64" fill="#f1cdba"/>
<rect x="2621.50" y="1690.11" width="76.80" height="70.64" fill="#f7b396"/>
<rect x="2621.50" y="1620.07" width="76.80" height="70.64" fill="#f29072"/>
<rect x="2621.50" y="1550.04" width="76.80" height="70.64" fill="#e0654f"/>
<rect x="2621.50" y="1480.00" width="76.80" height="70.64" fill="#c43032"/>
<rect x="2621.5" y="1480.0" width="76.8" height="770.4" fill="none" stroke="#000" stroke-width="3.0"/>
<line x1="2698.30" y1="2180.36" x2="2713.30" y2="2180.36" stroke="#000" stroke-width="3.0"/>
<text x="2728.8" y="2196.4" font-size="43.54" font-weight="normal" text-anchor="start" textLength="233.7" lengthAdjust="spacingAndGlyphs" style="white-space:pre" >−0.002434</text>
<line x1="2698.30" y1="2040.29" x2="2713.30" y2="2040.29" stroke="#000" stroke-width="3.0"/>
<text x="2728.8" y="2056.3" font-size="43.54" font-weight="normal" text-anchor="start" textLength="233.7" lengthAdjust="spacingAndGlyphs" style="white-space:pre" >−0.001352</text>
<line x1="2698.30" y1="1900.22" x2="2713.30" y2="1900.22" stroke="#000" stroke-width="3.0"/>
<text x="2728.8" y="1916.2" font-size="43.54" font-weight="normal" text-anchor="start" textLength="233.7" lengthAdjust="spacingAndGlyphs" style="white-space:pre" >−0.000270</text>
<line x1="2698.30" y1="1760.15" x2="2713.30" y2="1760.15" stroke="#000" stroke-width="3.0"/>
<text x="2728.8" y="1776.1" font-size="43.54" font-weight="normal" text-anchor="start" textLength="198.8" lengthAdjust="spacingAndGlyphs" style="white-space:pre" >0.000811</text>
<line x1="2698.30" y1="1620.07" x2="2713.30" y2="1620.07" stroke="#000" stroke-width="3.0"/>
<text x="2728.8" y="1636.1" font-size="43.54" font-weight="normal" text-anchor="start" textLength="198.8" lengthAdjust="spacingAndGlyphs" style="white-space:pre" >0.001893</text>
<line x1="2698.30" y1="1480.00" x2="2713.30" y2="1480.00" stroke="#000" stroke-width="3.0"/>
<text x="2728.8" y="1496.0" font-size="43.54" font-weight="normal" text-anchor="start" textLength="198.8" lengthAdjust="spacingAndGlyphs" style="white-space:pre" >0.002974</text>
</svg></body></html>
